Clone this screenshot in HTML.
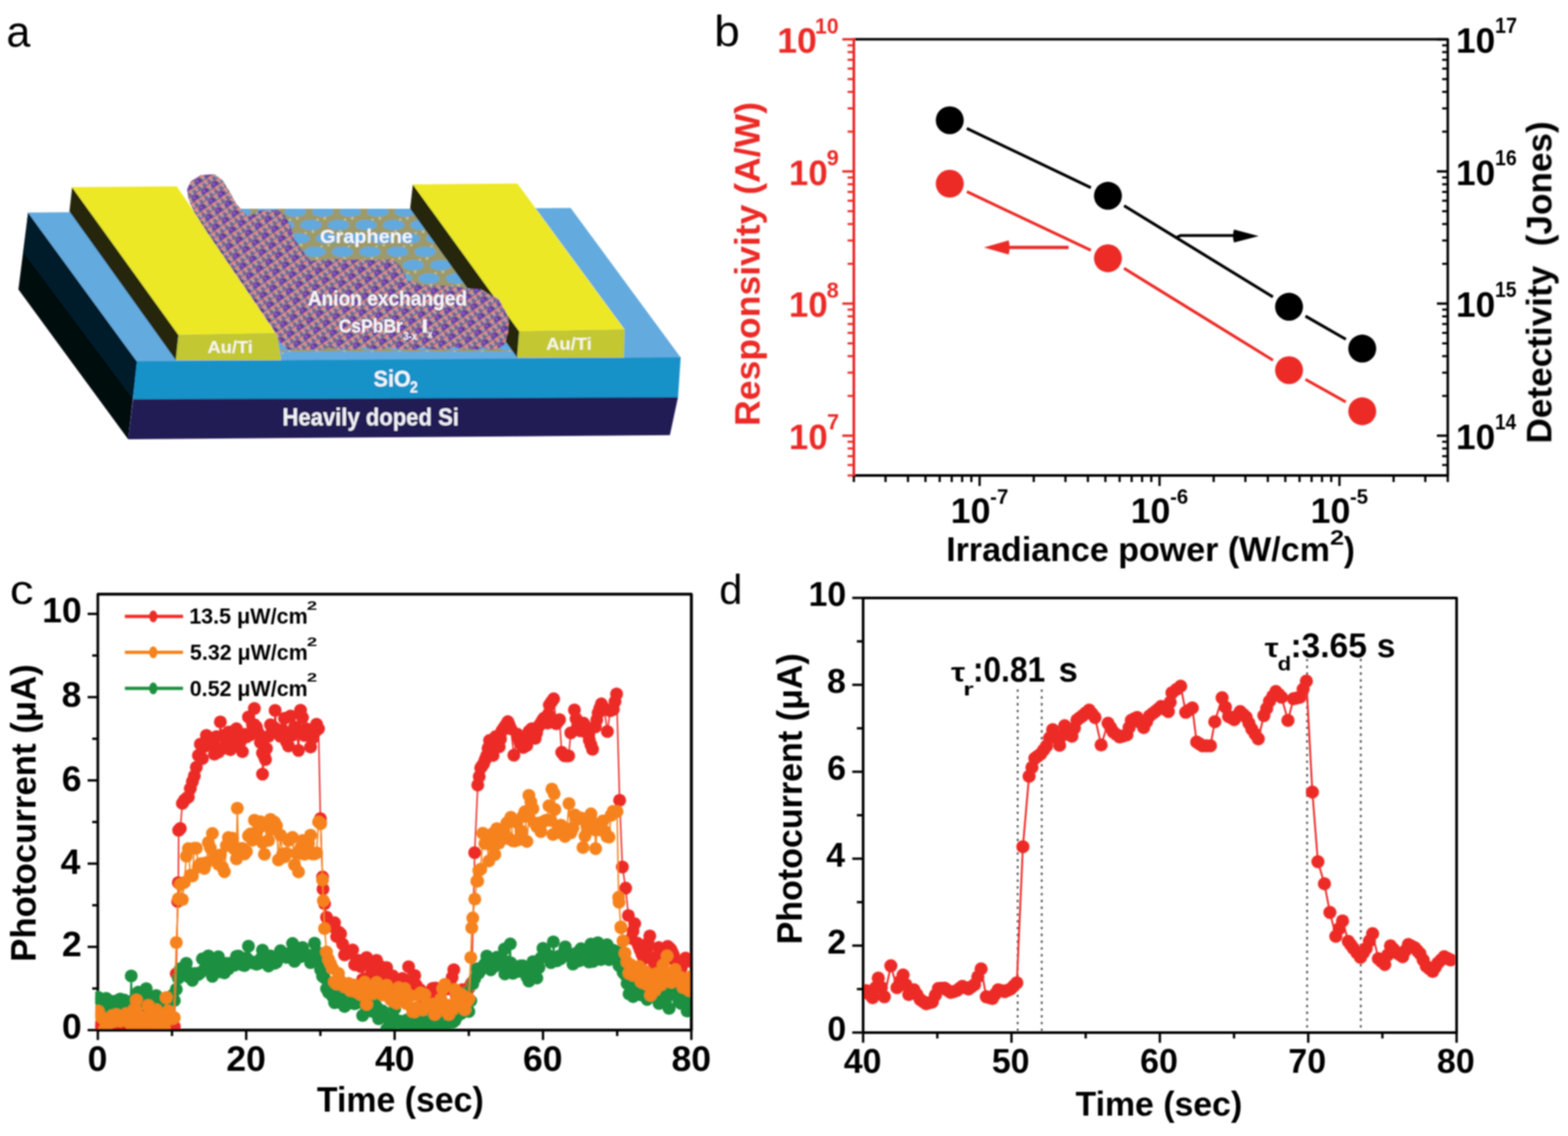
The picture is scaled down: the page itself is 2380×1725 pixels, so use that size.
<!DOCTYPE html><html><head><meta charset="utf-8"><style>html,body{margin:0;padding:0;background:#fff;}svg{display:block}</style></head><body><svg xmlns="http://www.w3.org/2000/svg" width="2380" height="1725" viewBox="0 0 2380 1725"><defs><filter id="soft" x="-1%" y="-1%" width="102%" height="102%"><feGaussianBlur stdDeviation="0.9"/></filter></defs><rect width="2380" height="1725" fill="#fff"/><g filter="url(#soft)"><g id="pa">
<text x="9.76" y="70.80" font-size="66" fill="#000" font-family="'Liberation Sans', Arial, sans-serif" textLength="36.31" lengthAdjust="spacingAndGlyphs">a</text>
<polygon points="42.6,322.8 208,549.1 194.6,667.1 28,439.6" fill="#03070f"/>
<polygon points="42.6,322.8 208,549.1 201.9,606.3 36.5,384.9" fill="#021b2a"/>
<polygon points="42.6,322.8 866.2,315.7 1033.2,542.9 208,549.1" fill="#64aadf"/>
<polygon points="208,548.6 1033.2,542.4 1029.1,603.7 201.9,606.8" fill="#1592c8"/>
<polygon points="201.9,606.3 1029.1,603.2 1016.8,660.7 194.6,667.1" fill="#211a55"/>
<clipPath id="gclip"><polygon points="366,317 622.5,317.1 784,541.6 430,541.6 400,470 366,360"/></clipPath>
<g clip-path="url(#gclip)">
<polygon points="366,317 622.5,317.1 784,541.6 430,541.6 400,470 366,360" fill="#9c9a6a"/>
<g fill="#62a9de"><ellipse cx="298.8" cy="301.1" rx="16.2" ry="7.9"/><ellipse cx="340.6" cy="301.1" rx="16.2" ry="7.9"/><ellipse cx="382.4" cy="301.1" rx="16.2" ry="7.9"/><ellipse cx="424.2" cy="301.1" rx="16.2" ry="7.9"/><ellipse cx="466" cy="301.1" rx="16.2" ry="7.9"/><ellipse cx="507.8" cy="301.1" rx="16.2" ry="7.9"/><ellipse cx="549.6" cy="301.1" rx="16.2" ry="7.9"/><ellipse cx="591.4" cy="301.1" rx="16.2" ry="7.9"/><ellipse cx="633.2" cy="301.1" rx="16.2" ry="7.9"/><ellipse cx="675" cy="301.1" rx="16.2" ry="7.9"/><ellipse cx="716.8" cy="301.1" rx="16.2" ry="7.9"/><ellipse cx="758.6" cy="301.1" rx="16.2" ry="7.9"/><ellipse cx="800.4" cy="301.1" rx="16.2" ry="7.9"/><ellipse cx="842.2" cy="301.1" rx="16.2" ry="7.9"/><ellipse cx="322.7" cy="321.4" rx="16.2" ry="7.9"/><ellipse cx="364.5" cy="321.4" rx="16.2" ry="7.9"/><ellipse cx="406.3" cy="321.4" rx="16.2" ry="7.9"/><ellipse cx="448.1" cy="321.4" rx="16.2" ry="7.9"/><ellipse cx="489.9" cy="321.4" rx="16.2" ry="7.9"/><ellipse cx="531.7" cy="321.4" rx="16.2" ry="7.9"/><ellipse cx="573.5" cy="321.4" rx="16.2" ry="7.9"/><ellipse cx="615.3" cy="321.4" rx="16.2" ry="7.9"/><ellipse cx="657.1" cy="321.4" rx="16.2" ry="7.9"/><ellipse cx="698.9" cy="321.4" rx="16.2" ry="7.9"/><ellipse cx="740.7" cy="321.4" rx="16.2" ry="7.9"/><ellipse cx="782.5" cy="321.4" rx="16.2" ry="7.9"/><ellipse cx="824.3" cy="321.4" rx="16.2" ry="7.9"/><ellipse cx="866.1" cy="321.4" rx="16.2" ry="7.9"/><ellipse cx="304.8" cy="341.7" rx="16.2" ry="7.9"/><ellipse cx="346.6" cy="341.7" rx="16.2" ry="7.9"/><ellipse cx="388.4" cy="341.7" rx="16.2" ry="7.9"/><ellipse cx="430.2" cy="341.7" rx="16.2" ry="7.9"/><ellipse cx="472" cy="341.7" rx="16.2" ry="7.9"/><ellipse cx="513.8" cy="341.7" rx="16.2" ry="7.9"/><ellipse cx="555.6" cy="341.7" rx="16.2" ry="7.9"/><ellipse cx="597.4" cy="341.7" rx="16.2" ry="7.9"/><ellipse cx="639.2" cy="341.7" rx="16.2" ry="7.9"/><ellipse cx="681" cy="341.7" rx="16.2" ry="7.9"/><ellipse cx="722.8" cy="341.7" rx="16.2" ry="7.9"/><ellipse cx="764.6" cy="341.7" rx="16.2" ry="7.9"/><ellipse cx="806.4" cy="341.7" rx="16.2" ry="7.9"/><ellipse cx="848.2" cy="341.7" rx="16.2" ry="7.9"/><ellipse cx="328.7" cy="362" rx="16.2" ry="7.9"/><ellipse cx="370.5" cy="362" rx="16.2" ry="7.9"/><ellipse cx="412.3" cy="362" rx="16.2" ry="7.9"/><ellipse cx="454.1" cy="362" rx="16.2" ry="7.9"/><ellipse cx="495.9" cy="362" rx="16.2" ry="7.9"/><ellipse cx="537.7" cy="362" rx="16.2" ry="7.9"/><ellipse cx="579.5" cy="362" rx="16.2" ry="7.9"/><ellipse cx="621.3" cy="362" rx="16.2" ry="7.9"/><ellipse cx="663.1" cy="362" rx="16.2" ry="7.9"/><ellipse cx="704.9" cy="362" rx="16.2" ry="7.9"/><ellipse cx="746.7" cy="362" rx="16.2" ry="7.9"/><ellipse cx="788.5" cy="362" rx="16.2" ry="7.9"/><ellipse cx="830.3" cy="362" rx="16.2" ry="7.9"/><ellipse cx="872.1" cy="362" rx="16.2" ry="7.9"/><ellipse cx="310.8" cy="382.3" rx="16.2" ry="7.9"/><ellipse cx="352.6" cy="382.3" rx="16.2" ry="7.9"/><ellipse cx="394.4" cy="382.3" rx="16.2" ry="7.9"/><ellipse cx="436.2" cy="382.3" rx="16.2" ry="7.9"/><ellipse cx="478" cy="382.3" rx="16.2" ry="7.9"/><ellipse cx="519.8" cy="382.3" rx="16.2" ry="7.9"/><ellipse cx="561.6" cy="382.3" rx="16.2" ry="7.9"/><ellipse cx="603.4" cy="382.3" rx="16.2" ry="7.9"/><ellipse cx="645.2" cy="382.3" rx="16.2" ry="7.9"/><ellipse cx="687" cy="382.3" rx="16.2" ry="7.9"/><ellipse cx="728.8" cy="382.3" rx="16.2" ry="7.9"/><ellipse cx="770.6" cy="382.3" rx="16.2" ry="7.9"/><ellipse cx="812.4" cy="382.3" rx="16.2" ry="7.9"/><ellipse cx="854.2" cy="382.3" rx="16.2" ry="7.9"/><ellipse cx="334.7" cy="402.6" rx="16.2" ry="7.9"/><ellipse cx="376.5" cy="402.6" rx="16.2" ry="7.9"/><ellipse cx="418.3" cy="402.6" rx="16.2" ry="7.9"/><ellipse cx="460.1" cy="402.6" rx="16.2" ry="7.9"/><ellipse cx="501.9" cy="402.6" rx="16.2" ry="7.9"/><ellipse cx="543.7" cy="402.6" rx="16.2" ry="7.9"/><ellipse cx="585.5" cy="402.6" rx="16.2" ry="7.9"/><ellipse cx="627.3" cy="402.6" rx="16.2" ry="7.9"/><ellipse cx="669.1" cy="402.6" rx="16.2" ry="7.9"/><ellipse cx="710.9" cy="402.6" rx="16.2" ry="7.9"/><ellipse cx="752.7" cy="402.6" rx="16.2" ry="7.9"/><ellipse cx="794.5" cy="402.6" rx="16.2" ry="7.9"/><ellipse cx="836.3" cy="402.6" rx="16.2" ry="7.9"/><ellipse cx="878.1" cy="402.6" rx="16.2" ry="7.9"/><ellipse cx="316.8" cy="422.9" rx="16.2" ry="7.9"/><ellipse cx="358.6" cy="422.9" rx="16.2" ry="7.9"/><ellipse cx="400.4" cy="422.9" rx="16.2" ry="7.9"/><ellipse cx="442.2" cy="422.9" rx="16.2" ry="7.9"/><ellipse cx="484" cy="422.9" rx="16.2" ry="7.9"/><ellipse cx="525.8" cy="422.9" rx="16.2" ry="7.9"/><ellipse cx="567.6" cy="422.9" rx="16.2" ry="7.9"/><ellipse cx="609.4" cy="422.9" rx="16.2" ry="7.9"/><ellipse cx="651.2" cy="422.9" rx="16.2" ry="7.9"/><ellipse cx="693" cy="422.9" rx="16.2" ry="7.9"/><ellipse cx="734.8" cy="422.9" rx="16.2" ry="7.9"/><ellipse cx="776.6" cy="422.9" rx="16.2" ry="7.9"/><ellipse cx="818.4" cy="422.9" rx="16.2" ry="7.9"/><ellipse cx="860.2" cy="422.9" rx="16.2" ry="7.9"/><ellipse cx="298.9" cy="443.2" rx="16.2" ry="7.9"/><ellipse cx="340.7" cy="443.2" rx="16.2" ry="7.9"/><ellipse cx="382.5" cy="443.2" rx="16.2" ry="7.9"/><ellipse cx="424.3" cy="443.2" rx="16.2" ry="7.9"/><ellipse cx="466.1" cy="443.2" rx="16.2" ry="7.9"/><ellipse cx="507.9" cy="443.2" rx="16.2" ry="7.9"/><ellipse cx="549.7" cy="443.2" rx="16.2" ry="7.9"/><ellipse cx="591.5" cy="443.2" rx="16.2" ry="7.9"/><ellipse cx="633.3" cy="443.2" rx="16.2" ry="7.9"/><ellipse cx="675.1" cy="443.2" rx="16.2" ry="7.9"/><ellipse cx="716.9" cy="443.2" rx="16.2" ry="7.9"/><ellipse cx="758.7" cy="443.2" rx="16.2" ry="7.9"/><ellipse cx="800.5" cy="443.2" rx="16.2" ry="7.9"/><ellipse cx="842.3" cy="443.2" rx="16.2" ry="7.9"/><ellipse cx="322.8" cy="463.5" rx="16.2" ry="7.9"/><ellipse cx="364.6" cy="463.5" rx="16.2" ry="7.9"/><ellipse cx="406.4" cy="463.5" rx="16.2" ry="7.9"/><ellipse cx="448.2" cy="463.5" rx="16.2" ry="7.9"/><ellipse cx="490" cy="463.5" rx="16.2" ry="7.9"/><ellipse cx="531.8" cy="463.5" rx="16.2" ry="7.9"/><ellipse cx="573.6" cy="463.5" rx="16.2" ry="7.9"/><ellipse cx="615.4" cy="463.5" rx="16.2" ry="7.9"/><ellipse cx="657.2" cy="463.5" rx="16.2" ry="7.9"/><ellipse cx="699" cy="463.5" rx="16.2" ry="7.9"/><ellipse cx="740.8" cy="463.5" rx="16.2" ry="7.9"/><ellipse cx="782.6" cy="463.5" rx="16.2" ry="7.9"/><ellipse cx="824.4" cy="463.5" rx="16.2" ry="7.9"/><ellipse cx="866.2" cy="463.5" rx="16.2" ry="7.9"/><ellipse cx="304.9" cy="483.8" rx="16.2" ry="7.9"/><ellipse cx="346.7" cy="483.8" rx="16.2" ry="7.9"/><ellipse cx="388.5" cy="483.8" rx="16.2" ry="7.9"/><ellipse cx="430.3" cy="483.8" rx="16.2" ry="7.9"/><ellipse cx="472.1" cy="483.8" rx="16.2" ry="7.9"/><ellipse cx="513.9" cy="483.8" rx="16.2" ry="7.9"/><ellipse cx="555.7" cy="483.8" rx="16.2" ry="7.9"/><ellipse cx="597.5" cy="483.8" rx="16.2" ry="7.9"/><ellipse cx="639.3" cy="483.8" rx="16.2" ry="7.9"/><ellipse cx="681.1" cy="483.8" rx="16.2" ry="7.9"/><ellipse cx="722.9" cy="483.8" rx="16.2" ry="7.9"/><ellipse cx="764.7" cy="483.8" rx="16.2" ry="7.9"/><ellipse cx="806.5" cy="483.8" rx="16.2" ry="7.9"/><ellipse cx="848.3" cy="483.8" rx="16.2" ry="7.9"/><ellipse cx="328.8" cy="504.1" rx="16.2" ry="7.9"/><ellipse cx="370.6" cy="504.1" rx="16.2" ry="7.9"/><ellipse cx="412.4" cy="504.1" rx="16.2" ry="7.9"/><ellipse cx="454.2" cy="504.1" rx="16.2" ry="7.9"/><ellipse cx="496" cy="504.1" rx="16.2" ry="7.9"/><ellipse cx="537.8" cy="504.1" rx="16.2" ry="7.9"/><ellipse cx="579.6" cy="504.1" rx="16.2" ry="7.9"/><ellipse cx="621.4" cy="504.1" rx="16.2" ry="7.9"/><ellipse cx="663.2" cy="504.1" rx="16.2" ry="7.9"/><ellipse cx="705" cy="504.1" rx="16.2" ry="7.9"/><ellipse cx="746.8" cy="504.1" rx="16.2" ry="7.9"/><ellipse cx="788.6" cy="504.1" rx="16.2" ry="7.9"/><ellipse cx="830.4" cy="504.1" rx="16.2" ry="7.9"/><ellipse cx="872.2" cy="504.1" rx="16.2" ry="7.9"/><ellipse cx="310.9" cy="524.4" rx="16.2" ry="7.9"/><ellipse cx="352.7" cy="524.4" rx="16.2" ry="7.9"/><ellipse cx="394.5" cy="524.4" rx="16.2" ry="7.9"/><ellipse cx="436.3" cy="524.4" rx="16.2" ry="7.9"/><ellipse cx="478.1" cy="524.4" rx="16.2" ry="7.9"/><ellipse cx="519.9" cy="524.4" rx="16.2" ry="7.9"/><ellipse cx="561.7" cy="524.4" rx="16.2" ry="7.9"/><ellipse cx="603.5" cy="524.4" rx="16.2" ry="7.9"/><ellipse cx="645.3" cy="524.4" rx="16.2" ry="7.9"/><ellipse cx="687.1" cy="524.4" rx="16.2" ry="7.9"/><ellipse cx="728.9" cy="524.4" rx="16.2" ry="7.9"/><ellipse cx="770.7" cy="524.4" rx="16.2" ry="7.9"/><ellipse cx="812.5" cy="524.4" rx="16.2" ry="7.9"/><ellipse cx="854.3" cy="524.4" rx="16.2" ry="7.9"/><ellipse cx="334.8" cy="544.7" rx="16.2" ry="7.9"/><ellipse cx="376.6" cy="544.7" rx="16.2" ry="7.9"/><ellipse cx="418.4" cy="544.7" rx="16.2" ry="7.9"/><ellipse cx="460.2" cy="544.7" rx="16.2" ry="7.9"/><ellipse cx="502" cy="544.7" rx="16.2" ry="7.9"/><ellipse cx="543.8" cy="544.7" rx="16.2" ry="7.9"/><ellipse cx="585.6" cy="544.7" rx="16.2" ry="7.9"/><ellipse cx="627.4" cy="544.7" rx="16.2" ry="7.9"/><ellipse cx="669.2" cy="544.7" rx="16.2" ry="7.9"/><ellipse cx="711" cy="544.7" rx="16.2" ry="7.9"/><ellipse cx="752.8" cy="544.7" rx="16.2" ry="7.9"/><ellipse cx="794.6" cy="544.7" rx="16.2" ry="7.9"/><ellipse cx="836.4" cy="544.7" rx="16.2" ry="7.9"/><ellipse cx="878.2" cy="544.7" rx="16.2" ry="7.9"/><ellipse cx="316.9" cy="565" rx="16.2" ry="7.9"/><ellipse cx="358.7" cy="565" rx="16.2" ry="7.9"/><ellipse cx="400.5" cy="565" rx="16.2" ry="7.9"/><ellipse cx="442.3" cy="565" rx="16.2" ry="7.9"/><ellipse cx="484.1" cy="565" rx="16.2" ry="7.9"/><ellipse cx="525.9" cy="565" rx="16.2" ry="7.9"/><ellipse cx="567.7" cy="565" rx="16.2" ry="7.9"/><ellipse cx="609.5" cy="565" rx="16.2" ry="7.9"/><ellipse cx="651.3" cy="565" rx="16.2" ry="7.9"/><ellipse cx="693.1" cy="565" rx="16.2" ry="7.9"/><ellipse cx="734.9" cy="565" rx="16.2" ry="7.9"/><ellipse cx="776.7" cy="565" rx="16.2" ry="7.9"/><ellipse cx="818.5" cy="565" rx="16.2" ry="7.9"/><ellipse cx="860.3" cy="565" rx="16.2" ry="7.9"/></g>
<g fill="#c2c08e"><circle cx="277.9" cy="290.9" r="2.2"/><circle cx="308.8" cy="292.8" r="1.8"/><circle cx="319.7" cy="290.9" r="2.2"/><circle cx="350.6" cy="292.8" r="1.8"/><circle cx="361.5" cy="290.9" r="2.2"/><circle cx="392.4" cy="292.8" r="1.8"/><circle cx="403.3" cy="290.9" r="2.2"/><circle cx="434.2" cy="292.8" r="1.8"/><circle cx="445.1" cy="290.9" r="2.2"/><circle cx="476" cy="292.8" r="1.8"/><circle cx="486.9" cy="290.9" r="2.2"/><circle cx="517.8" cy="292.8" r="1.8"/><circle cx="528.7" cy="290.9" r="2.2"/><circle cx="559.6" cy="292.8" r="1.8"/><circle cx="570.5" cy="290.9" r="2.2"/><circle cx="601.4" cy="292.8" r="1.8"/><circle cx="612.3" cy="290.9" r="2.2"/><circle cx="643.2" cy="292.8" r="1.8"/><circle cx="654.1" cy="290.9" r="2.2"/><circle cx="685" cy="292.8" r="1.8"/><circle cx="695.9" cy="290.9" r="2.2"/><circle cx="726.8" cy="292.8" r="1.8"/><circle cx="737.7" cy="290.9" r="2.2"/><circle cx="768.6" cy="292.8" r="1.8"/><circle cx="779.5" cy="290.9" r="2.2"/><circle cx="810.4" cy="292.8" r="1.8"/><circle cx="821.3" cy="290.9" r="2.2"/><circle cx="852.2" cy="292.8" r="1.8"/><circle cx="301.8" cy="311.2" r="2.2"/><circle cx="332.7" cy="313.1" r="1.8"/><circle cx="343.6" cy="311.2" r="2.2"/><circle cx="374.5" cy="313.1" r="1.8"/><circle cx="385.4" cy="311.2" r="2.2"/><circle cx="416.3" cy="313.1" r="1.8"/><circle cx="427.2" cy="311.2" r="2.2"/><circle cx="458.1" cy="313.1" r="1.8"/><circle cx="469" cy="311.2" r="2.2"/><circle cx="499.9" cy="313.1" r="1.8"/><circle cx="510.8" cy="311.2" r="2.2"/><circle cx="541.7" cy="313.1" r="1.8"/><circle cx="552.6" cy="311.2" r="2.2"/><circle cx="583.5" cy="313.1" r="1.8"/><circle cx="594.4" cy="311.2" r="2.2"/><circle cx="625.3" cy="313.1" r="1.8"/><circle cx="636.2" cy="311.2" r="2.2"/><circle cx="667.1" cy="313.1" r="1.8"/><circle cx="678" cy="311.2" r="2.2"/><circle cx="708.9" cy="313.1" r="1.8"/><circle cx="719.8" cy="311.2" r="2.2"/><circle cx="750.7" cy="313.1" r="1.8"/><circle cx="761.6" cy="311.2" r="2.2"/><circle cx="792.5" cy="313.1" r="1.8"/><circle cx="803.4" cy="311.2" r="2.2"/><circle cx="834.3" cy="313.1" r="1.8"/><circle cx="845.2" cy="311.2" r="2.2"/><circle cx="876.1" cy="313.1" r="1.8"/><circle cx="283.9" cy="331.5" r="2.2"/><circle cx="314.8" cy="333.4" r="1.8"/><circle cx="325.7" cy="331.5" r="2.2"/><circle cx="356.6" cy="333.4" r="1.8"/><circle cx="367.5" cy="331.5" r="2.2"/><circle cx="398.4" cy="333.4" r="1.8"/><circle cx="409.3" cy="331.5" r="2.2"/><circle cx="440.2" cy="333.4" r="1.8"/><circle cx="451.1" cy="331.5" r="2.2"/><circle cx="482" cy="333.4" r="1.8"/><circle cx="492.9" cy="331.5" r="2.2"/><circle cx="523.8" cy="333.4" r="1.8"/><circle cx="534.7" cy="331.5" r="2.2"/><circle cx="565.6" cy="333.4" r="1.8"/><circle cx="576.5" cy="331.5" r="2.2"/><circle cx="607.4" cy="333.4" r="1.8"/><circle cx="618.3" cy="331.5" r="2.2"/><circle cx="649.2" cy="333.4" r="1.8"/><circle cx="660.1" cy="331.5" r="2.2"/><circle cx="691" cy="333.4" r="1.8"/><circle cx="701.9" cy="331.5" r="2.2"/><circle cx="732.8" cy="333.4" r="1.8"/><circle cx="743.7" cy="331.5" r="2.2"/><circle cx="774.6" cy="333.4" r="1.8"/><circle cx="785.5" cy="331.5" r="2.2"/><circle cx="816.4" cy="333.4" r="1.8"/><circle cx="827.3" cy="331.5" r="2.2"/><circle cx="858.2" cy="333.4" r="1.8"/><circle cx="307.8" cy="351.8" r="2.2"/><circle cx="338.7" cy="353.7" r="1.8"/><circle cx="349.6" cy="351.8" r="2.2"/><circle cx="380.5" cy="353.7" r="1.8"/><circle cx="391.4" cy="351.8" r="2.2"/><circle cx="422.3" cy="353.7" r="1.8"/><circle cx="433.2" cy="351.8" r="2.2"/><circle cx="464.1" cy="353.7" r="1.8"/><circle cx="475" cy="351.8" r="2.2"/><circle cx="505.9" cy="353.7" r="1.8"/><circle cx="516.8" cy="351.8" r="2.2"/><circle cx="547.7" cy="353.7" r="1.8"/><circle cx="558.6" cy="351.8" r="2.2"/><circle cx="589.5" cy="353.7" r="1.8"/><circle cx="600.4" cy="351.8" r="2.2"/><circle cx="631.3" cy="353.7" r="1.8"/><circle cx="642.2" cy="351.8" r="2.2"/><circle cx="673.1" cy="353.7" r="1.8"/><circle cx="684" cy="351.8" r="2.2"/><circle cx="714.9" cy="353.7" r="1.8"/><circle cx="725.8" cy="351.8" r="2.2"/><circle cx="756.7" cy="353.7" r="1.8"/><circle cx="767.6" cy="351.8" r="2.2"/><circle cx="798.5" cy="353.7" r="1.8"/><circle cx="809.4" cy="351.8" r="2.2"/><circle cx="840.3" cy="353.7" r="1.8"/><circle cx="851.2" cy="351.8" r="2.2"/><circle cx="882.1" cy="353.7" r="1.8"/><circle cx="289.9" cy="372.1" r="2.2"/><circle cx="320.8" cy="374" r="1.8"/><circle cx="331.7" cy="372.1" r="2.2"/><circle cx="362.6" cy="374" r="1.8"/><circle cx="373.5" cy="372.1" r="2.2"/><circle cx="404.4" cy="374" r="1.8"/><circle cx="415.3" cy="372.1" r="2.2"/><circle cx="446.2" cy="374" r="1.8"/><circle cx="457.1" cy="372.1" r="2.2"/><circle cx="488" cy="374" r="1.8"/><circle cx="498.9" cy="372.1" r="2.2"/><circle cx="529.8" cy="374" r="1.8"/><circle cx="540.7" cy="372.1" r="2.2"/><circle cx="571.6" cy="374" r="1.8"/><circle cx="582.5" cy="372.1" r="2.2"/><circle cx="613.4" cy="374" r="1.8"/><circle cx="624.3" cy="372.1" r="2.2"/><circle cx="655.2" cy="374" r="1.8"/><circle cx="666.1" cy="372.1" r="2.2"/><circle cx="697" cy="374" r="1.8"/><circle cx="707.9" cy="372.1" r="2.2"/><circle cx="738.8" cy="374" r="1.8"/><circle cx="749.7" cy="372.1" r="2.2"/><circle cx="780.6" cy="374" r="1.8"/><circle cx="791.5" cy="372.1" r="2.2"/><circle cx="822.4" cy="374" r="1.8"/><circle cx="833.3" cy="372.1" r="2.2"/><circle cx="864.2" cy="374" r="1.8"/><circle cx="313.8" cy="392.4" r="2.2"/><circle cx="344.7" cy="394.3" r="1.8"/><circle cx="355.6" cy="392.4" r="2.2"/><circle cx="386.5" cy="394.3" r="1.8"/><circle cx="397.4" cy="392.4" r="2.2"/><circle cx="428.3" cy="394.3" r="1.8"/><circle cx="439.2" cy="392.4" r="2.2"/><circle cx="470.1" cy="394.3" r="1.8"/><circle cx="481" cy="392.4" r="2.2"/><circle cx="511.9" cy="394.3" r="1.8"/><circle cx="522.8" cy="392.4" r="2.2"/><circle cx="553.7" cy="394.3" r="1.8"/><circle cx="564.6" cy="392.4" r="2.2"/><circle cx="595.5" cy="394.3" r="1.8"/><circle cx="606.4" cy="392.4" r="2.2"/><circle cx="637.3" cy="394.3" r="1.8"/><circle cx="648.2" cy="392.4" r="2.2"/><circle cx="679.1" cy="394.3" r="1.8"/><circle cx="690" cy="392.4" r="2.2"/><circle cx="720.9" cy="394.3" r="1.8"/><circle cx="731.8" cy="392.4" r="2.2"/><circle cx="762.7" cy="394.3" r="1.8"/><circle cx="773.6" cy="392.4" r="2.2"/><circle cx="804.5" cy="394.3" r="1.8"/><circle cx="815.4" cy="392.4" r="2.2"/><circle cx="846.3" cy="394.3" r="1.8"/><circle cx="857.2" cy="392.4" r="2.2"/><circle cx="888.1" cy="394.3" r="1.8"/><circle cx="295.9" cy="412.7" r="2.2"/><circle cx="326.8" cy="414.6" r="1.8"/><circle cx="337.7" cy="412.7" r="2.2"/><circle cx="368.6" cy="414.6" r="1.8"/><circle cx="379.5" cy="412.7" r="2.2"/><circle cx="410.4" cy="414.6" r="1.8"/><circle cx="421.3" cy="412.7" r="2.2"/><circle cx="452.2" cy="414.6" r="1.8"/><circle cx="463.1" cy="412.7" r="2.2"/><circle cx="494" cy="414.6" r="1.8"/><circle cx="504.9" cy="412.7" r="2.2"/><circle cx="535.8" cy="414.6" r="1.8"/><circle cx="546.7" cy="412.7" r="2.2"/><circle cx="577.6" cy="414.6" r="1.8"/><circle cx="588.5" cy="412.7" r="2.2"/><circle cx="619.4" cy="414.6" r="1.8"/><circle cx="630.3" cy="412.7" r="2.2"/><circle cx="661.2" cy="414.6" r="1.8"/><circle cx="672.1" cy="412.7" r="2.2"/><circle cx="703" cy="414.6" r="1.8"/><circle cx="713.9" cy="412.7" r="2.2"/><circle cx="744.8" cy="414.6" r="1.8"/><circle cx="755.7" cy="412.7" r="2.2"/><circle cx="786.6" cy="414.6" r="1.8"/><circle cx="797.5" cy="412.7" r="2.2"/><circle cx="828.4" cy="414.6" r="1.8"/><circle cx="839.3" cy="412.7" r="2.2"/><circle cx="870.2" cy="414.6" r="1.8"/><circle cx="278" cy="433" r="2.2"/><circle cx="308.9" cy="434.9" r="1.8"/><circle cx="319.8" cy="433" r="2.2"/><circle cx="350.7" cy="434.9" r="1.8"/><circle cx="361.6" cy="433" r="2.2"/><circle cx="392.5" cy="434.9" r="1.8"/><circle cx="403.4" cy="433" r="2.2"/><circle cx="434.3" cy="434.9" r="1.8"/><circle cx="445.2" cy="433" r="2.2"/><circle cx="476.1" cy="434.9" r="1.8"/><circle cx="487" cy="433" r="2.2"/><circle cx="517.9" cy="434.9" r="1.8"/><circle cx="528.8" cy="433" r="2.2"/><circle cx="559.7" cy="434.9" r="1.8"/><circle cx="570.6" cy="433" r="2.2"/><circle cx="601.5" cy="434.9" r="1.8"/><circle cx="612.4" cy="433" r="2.2"/><circle cx="643.3" cy="434.9" r="1.8"/><circle cx="654.2" cy="433" r="2.2"/><circle cx="685.1" cy="434.9" r="1.8"/><circle cx="696" cy="433" r="2.2"/><circle cx="726.9" cy="434.9" r="1.8"/><circle cx="737.8" cy="433" r="2.2"/><circle cx="768.7" cy="434.9" r="1.8"/><circle cx="779.6" cy="433" r="2.2"/><circle cx="810.5" cy="434.9" r="1.8"/><circle cx="821.4" cy="433" r="2.2"/><circle cx="852.3" cy="434.9" r="1.8"/><circle cx="301.9" cy="453.3" r="2.2"/><circle cx="332.8" cy="455.2" r="1.8"/><circle cx="343.7" cy="453.3" r="2.2"/><circle cx="374.6" cy="455.2" r="1.8"/><circle cx="385.5" cy="453.3" r="2.2"/><circle cx="416.4" cy="455.2" r="1.8"/><circle cx="427.3" cy="453.3" r="2.2"/><circle cx="458.2" cy="455.2" r="1.8"/><circle cx="469.1" cy="453.3" r="2.2"/><circle cx="500" cy="455.2" r="1.8"/><circle cx="510.9" cy="453.3" r="2.2"/><circle cx="541.8" cy="455.2" r="1.8"/><circle cx="552.7" cy="453.3" r="2.2"/><circle cx="583.6" cy="455.2" r="1.8"/><circle cx="594.5" cy="453.3" r="2.2"/><circle cx="625.4" cy="455.2" r="1.8"/><circle cx="636.3" cy="453.3" r="2.2"/><circle cx="667.2" cy="455.2" r="1.8"/><circle cx="678.1" cy="453.3" r="2.2"/><circle cx="709" cy="455.2" r="1.8"/><circle cx="719.9" cy="453.3" r="2.2"/><circle cx="750.8" cy="455.2" r="1.8"/><circle cx="761.7" cy="453.3" r="2.2"/><circle cx="792.6" cy="455.2" r="1.8"/><circle cx="803.5" cy="453.3" r="2.2"/><circle cx="834.4" cy="455.2" r="1.8"/><circle cx="845.3" cy="453.3" r="2.2"/><circle cx="876.2" cy="455.2" r="1.8"/><circle cx="284" cy="473.6" r="2.2"/><circle cx="314.9" cy="475.5" r="1.8"/><circle cx="325.8" cy="473.6" r="2.2"/><circle cx="356.7" cy="475.5" r="1.8"/><circle cx="367.6" cy="473.6" r="2.2"/><circle cx="398.5" cy="475.5" r="1.8"/><circle cx="409.4" cy="473.6" r="2.2"/><circle cx="440.3" cy="475.5" r="1.8"/><circle cx="451.2" cy="473.6" r="2.2"/><circle cx="482.1" cy="475.5" r="1.8"/><circle cx="493" cy="473.6" r="2.2"/><circle cx="523.9" cy="475.5" r="1.8"/><circle cx="534.8" cy="473.6" r="2.2"/><circle cx="565.7" cy="475.5" r="1.8"/><circle cx="576.6" cy="473.6" r="2.2"/><circle cx="607.5" cy="475.5" r="1.8"/><circle cx="618.4" cy="473.6" r="2.2"/><circle cx="649.3" cy="475.5" r="1.8"/><circle cx="660.2" cy="473.6" r="2.2"/><circle cx="691.1" cy="475.5" r="1.8"/><circle cx="702" cy="473.6" r="2.2"/><circle cx="732.9" cy="475.5" r="1.8"/><circle cx="743.8" cy="473.6" r="2.2"/><circle cx="774.7" cy="475.5" r="1.8"/><circle cx="785.6" cy="473.6" r="2.2"/><circle cx="816.5" cy="475.5" r="1.8"/><circle cx="827.4" cy="473.6" r="2.2"/><circle cx="858.3" cy="475.5" r="1.8"/><circle cx="307.9" cy="493.9" r="2.2"/><circle cx="338.8" cy="495.8" r="1.8"/><circle cx="349.7" cy="493.9" r="2.2"/><circle cx="380.6" cy="495.8" r="1.8"/><circle cx="391.5" cy="493.9" r="2.2"/><circle cx="422.4" cy="495.8" r="1.8"/><circle cx="433.3" cy="493.9" r="2.2"/><circle cx="464.2" cy="495.8" r="1.8"/><circle cx="475.1" cy="493.9" r="2.2"/><circle cx="506" cy="495.8" r="1.8"/><circle cx="516.9" cy="493.9" r="2.2"/><circle cx="547.8" cy="495.8" r="1.8"/><circle cx="558.7" cy="493.9" r="2.2"/><circle cx="589.6" cy="495.8" r="1.8"/><circle cx="600.5" cy="493.9" r="2.2"/><circle cx="631.4" cy="495.8" r="1.8"/><circle cx="642.3" cy="493.9" r="2.2"/><circle cx="673.2" cy="495.8" r="1.8"/><circle cx="684.1" cy="493.9" r="2.2"/><circle cx="715" cy="495.8" r="1.8"/><circle cx="725.9" cy="493.9" r="2.2"/><circle cx="756.8" cy="495.8" r="1.8"/><circle cx="767.7" cy="493.9" r="2.2"/><circle cx="798.6" cy="495.8" r="1.8"/><circle cx="809.5" cy="493.9" r="2.2"/><circle cx="840.4" cy="495.8" r="1.8"/><circle cx="851.3" cy="493.9" r="2.2"/><circle cx="882.2" cy="495.8" r="1.8"/><circle cx="290" cy="514.2" r="2.2"/><circle cx="320.9" cy="516.1" r="1.8"/><circle cx="331.8" cy="514.2" r="2.2"/><circle cx="362.7" cy="516.1" r="1.8"/><circle cx="373.6" cy="514.2" r="2.2"/><circle cx="404.5" cy="516.1" r="1.8"/><circle cx="415.4" cy="514.2" r="2.2"/><circle cx="446.3" cy="516.1" r="1.8"/><circle cx="457.2" cy="514.2" r="2.2"/><circle cx="488.1" cy="516.1" r="1.8"/><circle cx="499" cy="514.2" r="2.2"/><circle cx="529.9" cy="516.1" r="1.8"/><circle cx="540.8" cy="514.2" r="2.2"/><circle cx="571.7" cy="516.1" r="1.8"/><circle cx="582.6" cy="514.2" r="2.2"/><circle cx="613.5" cy="516.1" r="1.8"/><circle cx="624.4" cy="514.2" r="2.2"/><circle cx="655.3" cy="516.1" r="1.8"/><circle cx="666.2" cy="514.2" r="2.2"/><circle cx="697.1" cy="516.1" r="1.8"/><circle cx="708" cy="514.2" r="2.2"/><circle cx="738.9" cy="516.1" r="1.8"/><circle cx="749.8" cy="514.2" r="2.2"/><circle cx="780.7" cy="516.1" r="1.8"/><circle cx="791.6" cy="514.2" r="2.2"/><circle cx="822.5" cy="516.1" r="1.8"/><circle cx="833.4" cy="514.2" r="2.2"/><circle cx="864.3" cy="516.1" r="1.8"/><circle cx="313.9" cy="534.5" r="2.2"/><circle cx="344.8" cy="536.4" r="1.8"/><circle cx="355.7" cy="534.5" r="2.2"/><circle cx="386.6" cy="536.4" r="1.8"/><circle cx="397.5" cy="534.5" r="2.2"/><circle cx="428.4" cy="536.4" r="1.8"/><circle cx="439.3" cy="534.5" r="2.2"/><circle cx="470.2" cy="536.4" r="1.8"/><circle cx="481.1" cy="534.5" r="2.2"/><circle cx="512" cy="536.4" r="1.8"/><circle cx="522.9" cy="534.5" r="2.2"/><circle cx="553.8" cy="536.4" r="1.8"/><circle cx="564.7" cy="534.5" r="2.2"/><circle cx="595.6" cy="536.4" r="1.8"/><circle cx="606.5" cy="534.5" r="2.2"/><circle cx="637.4" cy="536.4" r="1.8"/><circle cx="648.3" cy="534.5" r="2.2"/><circle cx="679.2" cy="536.4" r="1.8"/><circle cx="690.1" cy="534.5" r="2.2"/><circle cx="721" cy="536.4" r="1.8"/><circle cx="731.9" cy="534.5" r="2.2"/><circle cx="762.8" cy="536.4" r="1.8"/><circle cx="773.7" cy="534.5" r="2.2"/><circle cx="804.6" cy="536.4" r="1.8"/><circle cx="815.5" cy="534.5" r="2.2"/><circle cx="846.4" cy="536.4" r="1.8"/><circle cx="857.3" cy="534.5" r="2.2"/><circle cx="888.2" cy="536.4" r="1.8"/><circle cx="296" cy="554.8" r="2.2"/><circle cx="326.9" cy="556.7" r="1.8"/><circle cx="337.8" cy="554.8" r="2.2"/><circle cx="368.7" cy="556.7" r="1.8"/><circle cx="379.6" cy="554.8" r="2.2"/><circle cx="410.5" cy="556.7" r="1.8"/><circle cx="421.4" cy="554.8" r="2.2"/><circle cx="452.3" cy="556.7" r="1.8"/><circle cx="463.2" cy="554.8" r="2.2"/><circle cx="494.1" cy="556.7" r="1.8"/><circle cx="505" cy="554.8" r="2.2"/><circle cx="535.9" cy="556.7" r="1.8"/><circle cx="546.8" cy="554.8" r="2.2"/><circle cx="577.7" cy="556.7" r="1.8"/><circle cx="588.6" cy="554.8" r="2.2"/><circle cx="619.5" cy="556.7" r="1.8"/><circle cx="630.4" cy="554.8" r="2.2"/><circle cx="661.3" cy="556.7" r="1.8"/><circle cx="672.2" cy="554.8" r="2.2"/><circle cx="703.1" cy="556.7" r="1.8"/><circle cx="714" cy="554.8" r="2.2"/><circle cx="744.9" cy="556.7" r="1.8"/><circle cx="755.8" cy="554.8" r="2.2"/><circle cx="786.7" cy="556.7" r="1.8"/><circle cx="797.6" cy="554.8" r="2.2"/><circle cx="828.5" cy="556.7" r="1.8"/><circle cx="839.4" cy="554.8" r="2.2"/><circle cx="870.3" cy="556.7" r="1.8"/></g>
</g>
<polygon points="430,534 779,534 784,541.6 430,545" fill="#64aadf"/>
<polygon points="109.5,284.2 271,508.7 266.9,547 105.4,321.2" fill="#26270b"/>
<polygon points="109.5,284.2 268.3,282.9 420.2,506 271,508.7" fill="#ede826"/>
<polygon points="271,508.7 420.2,506 427,547 266.9,547" fill="#c3c732"/>
<polygon points="626.7,280.1 788.2,503.2 785,543 622.5,317.1" fill="#26270b"/>
<polygon points="626.7,280.1 785.4,278.7 948.3,500.5 788.2,503.2" fill="#ede826"/>
<polygon points="788.2,503.2 948.3,500.5 947,543 785,543" fill="#c3c732"/>
<defs><pattern id="nc" patternUnits="userSpaceOnUse" width="18" height="18" patternTransform="rotate(-35) translate(3,5)"><rect width="18" height="18" fill="#786890"/><rect x="1" y="1.4" width="7" height="3.3" rx="1.5" fill="#f38c80"/><rect x="10" y="1.4" width="7" height="3.3" rx="1.5" fill="#f38c80"/><rect x="1" y="10.4" width="7" height="3.3" rx="1.5" fill="#f38c80"/><rect x="10" y="10.4" width="7" height="3.3" rx="1.5" fill="#f38c80"/><circle cx="4.5" cy="6.8" r="1.9" fill="#a9b4c2"/><circle cx="13.5" cy="6.8" r="1.9" fill="#a9b4c2"/><circle cx="4.5" cy="15.8" r="1.9" fill="#a9b4c2"/><circle cx="0" cy="2.9" r="1.3" fill="#a9b4c2"/><circle cx="13.5" cy="15.4" r="4.7" fill="#3c2160"/><circle cx="13.1" cy="15" r="3.9" fill="#6d3bb3"/><circle cx="12.4" cy="14.2" r="1.3" fill="#9d78da"/></pattern></defs>
<polygon points="284,287 290,275 305,265.8 326,264.5 338,274 348,290 358,308 368,320 376,329 383,326 393,320 420,318.5 432,326 441,343 446,361 455,375 464,387 473,396 503,393 550,394.4 580,394.5 593.4,393.4 605.8,400.7 614.1,416.2 618.3,426.5 628.6,427.6 637.9,431.7 652.4,433.8 683.4,433.8 698.9,435.8 707.2,437.9 729.9,438.9 741.3,446.2 755.7,452.4 765,467.9 772.3,483.4 771.3,504.1 766.1,522.7 757,529 745,531 735,528 725,531 700,530 690,527 680,531 650,530 640,527 630,531 600,530 590,527 580,531 560,530 550,527 540,531 510,530 500,527 490,531 460,531 437,531 425,520 418.5,506 380.6,450 346.5,400 312.5,350 294.3,321 289,310 285.5,300" fill="url(#nc)"/>
<text x="485.79" y="369.10" font-size="29.5" font-weight="bold" fill="#f6f6fa" font-family="'Liberation Sans', Arial, sans-serif" textLength="140.86" lengthAdjust="spacingAndGlyphs">Graphene</text>
<text x="467.17" y="464.00" font-size="31" font-weight="bold" fill="#f6f6fa" font-family="'Liberation Sans', Arial, sans-serif" textLength="241.80" lengthAdjust="spacingAndGlyphs">Anion exchanged</text>
<text x="514.14" y="505.00" font-size="29" font-weight="bold" fill="#f6f6fa" font-family="'Liberation Sans', Arial, sans-serif" textLength="97.29" lengthAdjust="spacingAndGlyphs">CsPbBr</text>
<text x="612.14" y="515.50" font-size="16" font-weight="bold" fill="#f6f6fa" font-family="'Liberation Sans', Arial, sans-serif" textLength="21.01" lengthAdjust="spacingAndGlyphs">3-x</text>
<text x="639.53" y="505.00" font-size="29" font-weight="bold" fill="#f6f6fa" font-family="'Liberation Sans', Arial, sans-serif" textLength="10.54" lengthAdjust="spacingAndGlyphs">I</text>
<text x="649.58" y="512.70" font-size="16" font-weight="bold" fill="#f6f6fa" font-family="'Liberation Sans', Arial, sans-serif" textLength="6.86" lengthAdjust="spacingAndGlyphs">x</text>
<text x="315.01" y="536.40" font-size="25" font-weight="bold" fill="#f7f7e6" font-family="'Liberation Sans', Arial, sans-serif" textLength="68.67" lengthAdjust="spacingAndGlyphs">Au/Ti</text>
<text x="828.90" y="530.60" font-size="25" font-weight="bold" fill="#f7f7e6" font-family="'Liberation Sans', Arial, sans-serif" textLength="69.40" lengthAdjust="spacingAndGlyphs">Au/Ti</text>
<text x="567.12" y="587.20" font-size="35" font-weight="bold" fill="#f2f8fc" font-family="'Liberation Sans', Arial, sans-serif" textLength="56.38" lengthAdjust="spacingAndGlyphs">SiO</text>
<text x="622.25" y="596.00" font-size="24" font-weight="bold" fill="#f2f8fc" font-family="'Liberation Sans', Arial, sans-serif" textLength="11.93" lengthAdjust="spacingAndGlyphs">2</text>
<text x="428.83" y="646.40" font-size="36.5" font-weight="bold" fill="#f2f2f8" font-family="'Liberation Sans', Arial, sans-serif" textLength="267.70" lengthAdjust="spacingAndGlyphs">Heavily doped Si</text>
</g>
<g id="pb">
<text x="1083.95" y="70.20" font-size="66" fill="#000" font-family="'Liberation Sans', Arial, sans-serif" textLength="38.93" lengthAdjust="spacingAndGlyphs">b</text>
<path d="M1296,59.7 H2197.5 V722 H1296" fill="none" stroke="#000" stroke-width="3.8" stroke-linejoin="round"/>
<line x1="1296" y1="57.800000000000004" x2="1296" y2="724.5" stroke="#ec2a26" stroke-width="4"/>
<line x1="1278.5" y1="661.6" x2="1296" y2="661.6" stroke="#ec2a26" stroke-width="3.6"/>
<line x1="1286.5" y1="722" x2="1296" y2="722" stroke="#ec2a26" stroke-width="3.2"/>
<line x1="1286.5" y1="706.1" x2="1296" y2="706.1" stroke="#ec2a26" stroke-width="3.2"/>
<line x1="1286.5" y1="692.7" x2="1296" y2="692.7" stroke="#ec2a26" stroke-width="3.2"/>
<line x1="1286.5" y1="681" x2="1296" y2="681" stroke="#ec2a26" stroke-width="3.2"/>
<line x1="1286.5" y1="670.8" x2="1296" y2="670.8" stroke="#ec2a26" stroke-width="3.2"/>
<line x1="1278.5" y1="461" x2="1296" y2="461" stroke="#ec2a26" stroke-width="3.6"/>
<line x1="1286.5" y1="601.2" x2="1296" y2="601.2" stroke="#ec2a26" stroke-width="3.2"/>
<line x1="1286.5" y1="565.9" x2="1296" y2="565.9" stroke="#ec2a26" stroke-width="3.2"/>
<line x1="1286.5" y1="540.8" x2="1296" y2="540.8" stroke="#ec2a26" stroke-width="3.2"/>
<line x1="1286.5" y1="521.4" x2="1296" y2="521.4" stroke="#ec2a26" stroke-width="3.2"/>
<line x1="1286.5" y1="505.5" x2="1296" y2="505.5" stroke="#ec2a26" stroke-width="3.2"/>
<line x1="1286.5" y1="492" x2="1296" y2="492" stroke="#ec2a26" stroke-width="3.2"/>
<line x1="1286.5" y1="480.4" x2="1296" y2="480.4" stroke="#ec2a26" stroke-width="3.2"/>
<line x1="1286.5" y1="470.1" x2="1296" y2="470.1" stroke="#ec2a26" stroke-width="3.2"/>
<line x1="1278.5" y1="260.3" x2="1296" y2="260.3" stroke="#ec2a26" stroke-width="3.6"/>
<line x1="1286.5" y1="400.6" x2="1296" y2="400.6" stroke="#ec2a26" stroke-width="3.2"/>
<line x1="1286.5" y1="365.2" x2="1296" y2="365.2" stroke="#ec2a26" stroke-width="3.2"/>
<line x1="1286.5" y1="340.2" x2="1296" y2="340.2" stroke="#ec2a26" stroke-width="3.2"/>
<line x1="1286.5" y1="320.7" x2="1296" y2="320.7" stroke="#ec2a26" stroke-width="3.2"/>
<line x1="1286.5" y1="304.8" x2="1296" y2="304.8" stroke="#ec2a26" stroke-width="3.2"/>
<line x1="1286.5" y1="291.4" x2="1296" y2="291.4" stroke="#ec2a26" stroke-width="3.2"/>
<line x1="1286.5" y1="279.8" x2="1296" y2="279.8" stroke="#ec2a26" stroke-width="3.2"/>
<line x1="1286.5" y1="269.5" x2="1296" y2="269.5" stroke="#ec2a26" stroke-width="3.2"/>
<line x1="1278.5" y1="59.7" x2="1296" y2="59.7" stroke="#ec2a26" stroke-width="3.6"/>
<line x1="1286.5" y1="199.9" x2="1296" y2="199.9" stroke="#ec2a26" stroke-width="3.2"/>
<line x1="1286.5" y1="164.6" x2="1296" y2="164.6" stroke="#ec2a26" stroke-width="3.2"/>
<line x1="1286.5" y1="139.5" x2="1296" y2="139.5" stroke="#ec2a26" stroke-width="3.2"/>
<line x1="1286.5" y1="120.1" x2="1296" y2="120.1" stroke="#ec2a26" stroke-width="3.2"/>
<line x1="1286.5" y1="104.2" x2="1296" y2="104.2" stroke="#ec2a26" stroke-width="3.2"/>
<line x1="1286.5" y1="90.8" x2="1296" y2="90.8" stroke="#ec2a26" stroke-width="3.2"/>
<line x1="1286.5" y1="79.1" x2="1296" y2="79.1" stroke="#ec2a26" stroke-width="3.2"/>
<line x1="1286.5" y1="68.9" x2="1296" y2="68.9" stroke="#ec2a26" stroke-width="3.2"/>
<line x1="2181.0" y1="661.6" x2="2197.5" y2="661.6" stroke="#000" stroke-width="3.6"/>
<line x1="2189.0" y1="722" x2="2197.5" y2="722" stroke="#000" stroke-width="3.2"/>
<line x1="2189.0" y1="706.1" x2="2197.5" y2="706.1" stroke="#000" stroke-width="3.2"/>
<line x1="2189.0" y1="692.7" x2="2197.5" y2="692.7" stroke="#000" stroke-width="3.2"/>
<line x1="2189.0" y1="681" x2="2197.5" y2="681" stroke="#000" stroke-width="3.2"/>
<line x1="2189.0" y1="670.8" x2="2197.5" y2="670.8" stroke="#000" stroke-width="3.2"/>
<line x1="2181.0" y1="461" x2="2197.5" y2="461" stroke="#000" stroke-width="3.6"/>
<line x1="2189.0" y1="601.2" x2="2197.5" y2="601.2" stroke="#000" stroke-width="3.2"/>
<line x1="2189.0" y1="565.9" x2="2197.5" y2="565.9" stroke="#000" stroke-width="3.2"/>
<line x1="2189.0" y1="540.8" x2="2197.5" y2="540.8" stroke="#000" stroke-width="3.2"/>
<line x1="2189.0" y1="521.4" x2="2197.5" y2="521.4" stroke="#000" stroke-width="3.2"/>
<line x1="2189.0" y1="505.5" x2="2197.5" y2="505.5" stroke="#000" stroke-width="3.2"/>
<line x1="2189.0" y1="492" x2="2197.5" y2="492" stroke="#000" stroke-width="3.2"/>
<line x1="2189.0" y1="480.4" x2="2197.5" y2="480.4" stroke="#000" stroke-width="3.2"/>
<line x1="2189.0" y1="470.1" x2="2197.5" y2="470.1" stroke="#000" stroke-width="3.2"/>
<line x1="2181.0" y1="260.3" x2="2197.5" y2="260.3" stroke="#000" stroke-width="3.6"/>
<line x1="2189.0" y1="400.6" x2="2197.5" y2="400.6" stroke="#000" stroke-width="3.2"/>
<line x1="2189.0" y1="365.2" x2="2197.5" y2="365.2" stroke="#000" stroke-width="3.2"/>
<line x1="2189.0" y1="340.2" x2="2197.5" y2="340.2" stroke="#000" stroke-width="3.2"/>
<line x1="2189.0" y1="320.7" x2="2197.5" y2="320.7" stroke="#000" stroke-width="3.2"/>
<line x1="2189.0" y1="304.8" x2="2197.5" y2="304.8" stroke="#000" stroke-width="3.2"/>
<line x1="2189.0" y1="291.4" x2="2197.5" y2="291.4" stroke="#000" stroke-width="3.2"/>
<line x1="2189.0" y1="279.8" x2="2197.5" y2="279.8" stroke="#000" stroke-width="3.2"/>
<line x1="2189.0" y1="269.5" x2="2197.5" y2="269.5" stroke="#000" stroke-width="3.2"/>
<line x1="2181.0" y1="59.7" x2="2197.5" y2="59.7" stroke="#000" stroke-width="3.6"/>
<line x1="2189.0" y1="199.9" x2="2197.5" y2="199.9" stroke="#000" stroke-width="3.2"/>
<line x1="2189.0" y1="164.6" x2="2197.5" y2="164.6" stroke="#000" stroke-width="3.2"/>
<line x1="2189.0" y1="139.5" x2="2197.5" y2="139.5" stroke="#000" stroke-width="3.2"/>
<line x1="2189.0" y1="120.1" x2="2197.5" y2="120.1" stroke="#000" stroke-width="3.2"/>
<line x1="2189.0" y1="104.2" x2="2197.5" y2="104.2" stroke="#000" stroke-width="3.2"/>
<line x1="2189.0" y1="90.8" x2="2197.5" y2="90.8" stroke="#000" stroke-width="3.2"/>
<line x1="2189.0" y1="79.1" x2="2197.5" y2="79.1" stroke="#000" stroke-width="3.2"/>
<line x1="2189.0" y1="68.9" x2="2197.5" y2="68.9" stroke="#000" stroke-width="3.2"/>
<line x1="1296" y1="722" x2="1296" y2="732" stroke="#000" stroke-width="3.4"/>
<line x1="1344.1" y1="722" x2="1344.1" y2="732" stroke="#000" stroke-width="3.4"/>
<line x1="1378.2" y1="722" x2="1378.2" y2="732" stroke="#000" stroke-width="3.4"/>
<line x1="1404.7" y1="722" x2="1404.7" y2="732" stroke="#000" stroke-width="3.4"/>
<line x1="1426.3" y1="722" x2="1426.3" y2="732" stroke="#000" stroke-width="3.4"/>
<line x1="1444.6" y1="722" x2="1444.6" y2="732" stroke="#000" stroke-width="3.4"/>
<line x1="1460.4" y1="722" x2="1460.4" y2="732" stroke="#000" stroke-width="3.4"/>
<line x1="1474.4" y1="722" x2="1474.4" y2="732" stroke="#000" stroke-width="3.4"/>
<line x1="1486.9" y1="722" x2="1486.9" y2="738" stroke="#000" stroke-width="3.4"/>
<line x1="1569.1" y1="722" x2="1569.1" y2="732" stroke="#000" stroke-width="3.4"/>
<line x1="1617.2" y1="722" x2="1617.2" y2="732" stroke="#000" stroke-width="3.4"/>
<line x1="1651.3" y1="722" x2="1651.3" y2="732" stroke="#000" stroke-width="3.4"/>
<line x1="1677.8" y1="722" x2="1677.8" y2="732" stroke="#000" stroke-width="3.4"/>
<line x1="1699.4" y1="722" x2="1699.4" y2="732" stroke="#000" stroke-width="3.4"/>
<line x1="1717.7" y1="722" x2="1717.7" y2="732" stroke="#000" stroke-width="3.4"/>
<line x1="1733.5" y1="722" x2="1733.5" y2="732" stroke="#000" stroke-width="3.4"/>
<line x1="1747.5" y1="722" x2="1747.5" y2="732" stroke="#000" stroke-width="3.4"/>
<line x1="1760" y1="722" x2="1760" y2="738" stroke="#000" stroke-width="3.4"/>
<line x1="1842.2" y1="722" x2="1842.2" y2="732" stroke="#000" stroke-width="3.4"/>
<line x1="1890.3" y1="722" x2="1890.3" y2="732" stroke="#000" stroke-width="3.4"/>
<line x1="1924.4" y1="722" x2="1924.4" y2="732" stroke="#000" stroke-width="3.4"/>
<line x1="1950.9" y1="722" x2="1950.9" y2="732" stroke="#000" stroke-width="3.4"/>
<line x1="1972.5" y1="722" x2="1972.5" y2="732" stroke="#000" stroke-width="3.4"/>
<line x1="1990.8" y1="722" x2="1990.8" y2="732" stroke="#000" stroke-width="3.4"/>
<line x1="2006.6" y1="722" x2="2006.6" y2="732" stroke="#000" stroke-width="3.4"/>
<line x1="2020.6" y1="722" x2="2020.6" y2="732" stroke="#000" stroke-width="3.4"/>
<line x1="2033.1" y1="722" x2="2033.1" y2="738" stroke="#000" stroke-width="3.4"/>
<line x1="2115.3" y1="722" x2="2115.3" y2="732" stroke="#000" stroke-width="3.4"/>
<line x1="2163.4" y1="722" x2="2163.4" y2="732" stroke="#000" stroke-width="3.4"/>
<line x1="2197.5" y1="722" x2="2197.5" y2="732" stroke="#000" stroke-width="3.4"/>
<text x="1179.69" y="80.20" font-size="54.5" font-weight="bold" fill="#ec2a26" font-family="'Liberation Sans', Arial, sans-serif" textLength="60.10" lengthAdjust="spacingAndGlyphs">10</text>
<text x="1237.00" y="50.90" font-size="33" font-weight="bold" fill="#ec2a26" font-family="'Liberation Sans', Arial, sans-serif" textLength="35.86" lengthAdjust="spacingAndGlyphs">10</text>
<text x="1197.57" y="280.63" font-size="54.5" font-weight="bold" fill="#ec2a26" font-family="'Liberation Sans', Arial, sans-serif" textLength="58.66" lengthAdjust="spacingAndGlyphs">10</text>
<text x="1254.84" y="250.93" font-size="33" font-weight="bold" fill="#ec2a26" font-family="'Liberation Sans', Arial, sans-serif">9</text>
<text x="1197.57" y="481.27" font-size="54.5" font-weight="bold" fill="#ec2a26" font-family="'Liberation Sans', Arial, sans-serif" textLength="58.66" lengthAdjust="spacingAndGlyphs">10</text>
<text x="1254.67" y="451.57" font-size="33" font-weight="bold" fill="#ec2a26" font-family="'Liberation Sans', Arial, sans-serif">8</text>
<text x="1197.57" y="681.90" font-size="54.5" font-weight="bold" fill="#ec2a26" font-family="'Liberation Sans', Arial, sans-serif" textLength="58.66" lengthAdjust="spacingAndGlyphs">10</text>
<text x="1255.17" y="652.20" font-size="33" font-weight="bold" fill="#ec2a26" font-family="'Liberation Sans', Arial, sans-serif">7</text>
<text x="2210.02" y="79.90" font-size="54.5" font-weight="bold" fill="#000" font-family="'Liberation Sans', Arial, sans-serif" textLength="59.55" lengthAdjust="spacingAndGlyphs">10</text>
<text x="2269.26" y="50.10" font-size="32.5" font-weight="bold" fill="#000" font-family="'Liberation Sans', Arial, sans-serif" textLength="33.26" lengthAdjust="spacingAndGlyphs">17</text>
<text x="2210.02" y="280.53" font-size="54.5" font-weight="bold" fill="#000" font-family="'Liberation Sans', Arial, sans-serif" textLength="59.55" lengthAdjust="spacingAndGlyphs">10</text>
<text x="2269.28" y="250.73" font-size="32.5" font-weight="bold" fill="#000" font-family="'Liberation Sans', Arial, sans-serif" textLength="32.93" lengthAdjust="spacingAndGlyphs">16</text>
<text x="2210.02" y="481.17" font-size="54.5" font-weight="bold" fill="#000" font-family="'Liberation Sans', Arial, sans-serif" textLength="59.55" lengthAdjust="spacingAndGlyphs">10</text>
<text x="2269.29" y="451.37" font-size="32.5" font-weight="bold" fill="#000" font-family="'Liberation Sans', Arial, sans-serif" textLength="32.61" lengthAdjust="spacingAndGlyphs">15</text>
<text x="2210.02" y="681.80" font-size="54.5" font-weight="bold" fill="#000" font-family="'Liberation Sans', Arial, sans-serif" textLength="59.55" lengthAdjust="spacingAndGlyphs">10</text>
<text x="2269.33" y="652.00" font-size="32.5" font-weight="bold" fill="#000" font-family="'Liberation Sans', Arial, sans-serif" textLength="31.98" lengthAdjust="spacingAndGlyphs">14</text>
<text x="1443.05" y="794.20" font-size="54" font-weight="bold" fill="#000" font-family="'Liberation Sans', Arial, sans-serif" textLength="60.43" lengthAdjust="spacingAndGlyphs">10</text>
<text x="1502.85" y="764.60" font-size="31" font-weight="bold" fill="#000" font-family="'Liberation Sans', Arial, sans-serif">-7</text>
<text x="1716.15" y="794.20" font-size="54" font-weight="bold" fill="#000" font-family="'Liberation Sans', Arial, sans-serif" textLength="60.43" lengthAdjust="spacingAndGlyphs">10</text>
<text x="1775.94" y="764.60" font-size="31" font-weight="bold" fill="#000" font-family="'Liberation Sans', Arial, sans-serif">-6</text>
<text x="1989.25" y="794.20" font-size="54" font-weight="bold" fill="#000" font-family="'Liberation Sans', Arial, sans-serif" textLength="60.43" lengthAdjust="spacingAndGlyphs">10</text>
<text x="2049.04" y="764.60" font-size="31" font-weight="bold" fill="#000" font-family="'Liberation Sans', Arial, sans-serif">-5</text>
<text transform="translate(1152.60,646.71) rotate(-90)" font-size="54.5" font-weight="bold" fill="#ec2a26" font-family="'Liberation Sans', Arial, sans-serif" textLength="491.85" lengthAdjust="spacingAndGlyphs">Responsivity (A/W)</text>
<text transform="translate(2354.70,673.47) rotate(-90)" font-size="54.5" font-weight="bold" fill="#000" font-family="'Liberation Sans', Arial, sans-serif" textLength="489.32" lengthAdjust="spacingAndGlyphs" xml:space="preserve">Detectivity  (Jones)</text>
<text x="1436.14" y="852.40" font-size="52" font-weight="bold" fill="#000" font-family="'Liberation Sans', Arial, sans-serif" textLength="582.45" lengthAdjust="spacingAndGlyphs">Irradiance power (W/cm</text>
<text x="2018.65" y="826.80" font-size="31" font-weight="bold" fill="#000" font-family="'Liberation Sans', Arial, sans-serif" textLength="21.44" lengthAdjust="spacingAndGlyphs">2</text>
<text x="2039.75" y="852.40" font-size="52" font-weight="bold" fill="#000" font-family="'Liberation Sans', Arial, sans-serif" textLength="16.77" lengthAdjust="spacingAndGlyphs">)</text>
<line x1="1467.5" y1="195" x2="1655.8" y2="284.9" stroke="#000" stroke-width="4.4"/>
<line x1="1706.2" y1="312.3" x2="1932.1" y2="450.8" stroke="#000" stroke-width="4.4"/>
<line x1="1981.5" y1="480" x2="2042.8" y2="515.1" stroke="#000" stroke-width="4.4"/>
<circle cx="1441.6" cy="182.6" r="21.2" fill="#000"/>
<circle cx="1681.7" cy="297.3" r="21.2" fill="#000"/>
<circle cx="1956.6" cy="465.8" r="21.2" fill="#000"/>
<circle cx="2067.7" cy="529.3" r="21.2" fill="#000"/>
<line x1="1467.6" y1="291.1" x2="1655.7" y2="380" stroke="#ec2a26" stroke-width="4.4"/>
<line x1="1706.1" y1="407.3" x2="1932.2" y2="547" stroke="#ec2a26" stroke-width="4.4"/>
<line x1="1981.6" y1="576.2" x2="2042.7" y2="610.4" stroke="#ec2a26" stroke-width="4.4"/>
<circle cx="1441.6" cy="278.9" r="21.2" fill="#ec2a26"/>
<circle cx="1681.7" cy="392.2" r="21.2" fill="#ec2a26"/>
<circle cx="1956.6" cy="562.1" r="21.2" fill="#ec2a26"/>
<circle cx="2067.7" cy="624.5" r="21.2" fill="#ec2a26"/>
<path d="M1786,360.5 L1792,357.6 H1875" fill="none" stroke="#000" stroke-width="4.4"/>
<path d="M1910.5,358.4 L1873,348.5 Q1870,358.4 1873,368.3 Z" fill="#000"/>
<line x1="1622" y1="375.7" x2="1528" y2="375.7" stroke="#ec2a26" stroke-width="5"/>
<path d="M1493.5,375.7 L1531,365 Q1534,375.7 1531,386.4 Z" fill="#ec2a26"/>
</g>
<g id="pc">
<text x="14.98" y="916.50" font-size="63" fill="#000" font-family="'Liberation Sans', Arial, sans-serif" textLength="35.81" lengthAdjust="spacingAndGlyphs">c</text>
<rect x="148.5" y="902.2" width="900.9" height="662" fill="none" stroke="#000" stroke-width="4" stroke-linejoin="round"/>
<clipPath id="cclip"><rect x="144.6" y="902.2" width="902.7" height="660.2"/></clipPath>
<g clip-path="url(#cclip)">
<polyline points="149.1,1559.2 152.1,1561.3 155.1,1559.7 158.2,1560.9 161.2,1558.8 164.3,1562 167.3,1560.9 170.3,1559.3 173.4,1559 176.4,1558.7 179.5,1560.2 182.5,1560.7 185.5,1558 188.6,1559.4 191.6,1561.6 194.7,1561.1 197.7,1555.3 200.8,1561 203.8,1559.7 206.8,1558.8 209.9,1561.4 210.4,1560.4 212.9,1561.2 216,1560.7 219,1561.4 222,1560.8 225.1,1559.7 228.1,1558.7 231.2,1560.9 234.2,1556.9 237.2,1559.6 240.3,1557.7 243.3,1560.8 246.4,1557.5 249.4,1561.2 252.4,1559.2 255.5,1560.6 258.5,1552.8 261.6,1561 263.4,1556.6 264.6,1558.9 267.6,1478.6 269.7,1368.9 270.7,1340.3 271.2,1260.8 273.7,1258 276.8,1219.9 279.8,1215.2 282.8,1212.4 285.9,1210.3 288.9,1197.5 292,1186.9 295,1178.2 298,1165.1 301.1,1147.1 304.1,1130 307.2,1151.9 310.2,1133.6 313.3,1116.8 316.3,1129.7 319.3,1121.8 322.4,1126.4 325.4,1145.3 328.5,1118.5 331.5,1142 334.5,1096.2 337.6,1136.7 340.6,1116.4 343.7,1128.1 346.7,1111.9 349.7,1138.4 352.8,1111.1 355.8,1130.2 358.9,1106.6 361.9,1117.5 364.9,1125.7 368,1141.4 371,1115 374.1,1119 377.1,1088.7 380.1,1115.6 383.2,1099.7 386.1,1075.7 386.2,1100.5 389.3,1104.3 392.3,1113.2 395.3,1127.3 398.4,1143.5 398.5,1175.5 401.4,1148.8 403,1153.4 404.5,1136.6 407.5,1118 410.5,1100.6 413.6,1108 416.6,1105 417.6,1078.8 419.7,1108.5 422.7,1109.7 425.8,1118.3 428.8,1108.2 431.8,1090.9 434.9,1126.6 437.9,1132.7 441,1087.3 444,1116.4 447,1103.9 450.1,1105.4 453.1,1139.5 456.2,1078.5 459.2,1089.6 462.2,1116.7 465.3,1106.7 468.3,1117.3 471.4,1134.4 474.4,1121.1 477.4,1112.6 480.5,1099.8 483.5,1106.6 486.3,1243.1 486.6,1249.2 489.6,1331.6 490.3,1350 492.6,1372.3 495.7,1392.7 498.7,1401.1 501.8,1404.3 504.8,1407 507.8,1401.1 510.9,1422.1 513.9,1415.3 517,1417.9 520,1433.5 523,1450 526.1,1448.4 529.1,1444.9 532.2,1447.2 535.2,1442.5 538.3,1464.9 541.3,1460.2 544.3,1458.3 547.4,1467.5 550.4,1487.3 553.5,1464.4 556.5,1454 559.5,1465.1 562.6,1480.8 565.6,1478.1 568.7,1474.4 571.7,1458.3 574.7,1473.6 577.8,1478.6 580.8,1468.9 583.9,1482.6 586.9,1469.2 589.9,1489.8 593,1489.4 596,1481.7 601.4,1504.1 603.8,1509.2 606.3,1514.3 608.5,1500 610.6,1485.8 612.9,1499.4 615.2,1513 620.2,1468 624.8,1499.7 627.2,1490.5 629.5,1481.3 631.6,1495.6 633.8,1509.9 635.8,1506.4 637.8,1502.9 640.1,1509.9 642.4,1516.9 644.7,1520 647,1523.2 649.3,1521.9 651.7,1520.6 654,1510.8 656.3,1501 658.6,1500.7 660.9,1500.4 663.3,1503.5 665.6,1506.7 667.9,1505.4 670.2,1504.1 672.3,1501 674.5,1497.8 676.8,1499.7 679.2,1501.6 681.5,1498.5 683.8,1495.3 686.3,1483.9 688.8,1472.5 692.7,1513 695,1514.3 697.3,1515.5 699.5,1509.2 701.7,1502.9 704.2,1504.2 706.6,1505.5 708.9,1503.5 711.2,1501.6 713.6,1497.2 715.9,1492.7 720.5,1294.7 725.2,1192.1 727.4,1179.1 729.6,1166.1 731.8,1163 734,1159.8 736.2,1154 738.4,1148.2 740.8,1136.3 743.1,1124.4 745.8,1135.8 748.4,1147.1 750.3,1132.9 752.3,1118.6 755,1126.3 757.8,1133.9 759.7,1122 761.6,1110.2 763.8,1107 766,1103.8 768.5,1099.9 770.9,1095.9 773.1,1101.2 775.3,1106.5 780,1146.7 785.2,1114.9 787.2,1121.3 789.1,1127.6 791.6,1131.3 794.1,1135 796.8,1133.4 799.6,1131.8 801.2,1121.3 802.9,1110.7 805.1,1108.6 807.3,1106.5 809.8,1113.9 812.3,1121.3 814.5,1112.8 816.7,1104.4 818.9,1101.2 821.1,1098 823.3,1094.3 825.6,1090.6 828.3,1094.3 831.1,1098 832.4,1084.3 833.8,1070.6 837.1,1065.8 840.4,1061.1 844.3,1099 846.8,1095.9 849.3,1092.7 852.6,1142.4 854.8,1145 857,1147.7 860,1147.7 863.1,1147.7 866.4,1112.8 871.9,1078 874.4,1091.5 876.9,1105.1 879,1107.4 881.1,1109.7 883.4,1103.9 885.7,1098.1 888,1102.2 890.2,1106.2 892.4,1114.9 894.5,1123.7 896.9,1130.7 899.4,1137.7 903.7,1103.8 905.8,1093.3 907.9,1082.8 910.3,1075.8 912.8,1068.9 914.9,1073 917.1,1077.1 921.9,1110.8 926.2,1079.4 928.6,1078.2 931,1077.1 933.5,1065.4 935.9,1053.7 940.5,1215.2 944.7,1316.5 949.7,1348.6 953.8,1390.3 958.3,1425 960.9,1413.8 963.4,1402.6 967.8,1432.4 969.8,1437.5 971.7,1442.6 974.4,1449.1 977.1,1455.6 979.2,1449.1 981.4,1442.6 983.8,1431.9 986.3,1421.2 990.7,1457.5 993.1,1461.7 995.5,1465.9 997.7,1452.4 999.9,1438.9 1002.3,1444 1004.7,1449.1 1006.9,1451.9 1009.1,1454.8 1011.3,1445.9 1013.5,1437 1015.9,1439.4 1018.3,1441.7 1020.3,1445.9 1022.2,1450.1 1024.6,1459.4 1027.1,1468.7 1029.5,1472.4 1031.9,1476.1 1033.9,1470.1 1035.8,1464.1 1038.3,1459.4 1040.7,1454.8 1043.1,1457.1 1045.5,1459.4" fill="none" stroke="#ec2a26" stroke-width="2.2" stroke-linejoin="round"/>
<g fill="#ec2a26"><circle cx="149.1" cy="1559.2" r="9.8"/><circle cx="152.1" cy="1561.3" r="9.8"/><circle cx="155.1" cy="1559.7" r="9.8"/><circle cx="158.2" cy="1560.9" r="9.8"/><circle cx="161.2" cy="1558.8" r="9.8"/><circle cx="164.3" cy="1562" r="9.8"/><circle cx="167.3" cy="1560.9" r="9.8"/><circle cx="170.3" cy="1559.3" r="9.8"/><circle cx="173.4" cy="1559" r="9.8"/><circle cx="176.4" cy="1558.7" r="9.8"/><circle cx="179.5" cy="1560.2" r="9.8"/><circle cx="182.5" cy="1560.7" r="9.8"/><circle cx="185.5" cy="1558" r="9.8"/><circle cx="188.6" cy="1559.4" r="9.8"/><circle cx="191.6" cy="1561.6" r="9.8"/><circle cx="194.7" cy="1561.1" r="9.8"/><circle cx="197.7" cy="1555.3" r="9.8"/><circle cx="200.8" cy="1561" r="9.8"/><circle cx="203.8" cy="1559.7" r="9.8"/><circle cx="206.8" cy="1558.8" r="9.8"/><circle cx="209.9" cy="1561.4" r="9.8"/><circle cx="210.4" cy="1560.4" r="9.8"/><circle cx="212.9" cy="1561.2" r="9.8"/><circle cx="216" cy="1560.7" r="9.8"/><circle cx="219" cy="1561.4" r="9.8"/><circle cx="222" cy="1560.8" r="9.8"/><circle cx="225.1" cy="1559.7" r="9.8"/><circle cx="228.1" cy="1558.7" r="9.8"/><circle cx="231.2" cy="1560.9" r="9.8"/><circle cx="234.2" cy="1556.9" r="9.8"/><circle cx="237.2" cy="1559.6" r="9.8"/><circle cx="240.3" cy="1557.7" r="9.8"/><circle cx="243.3" cy="1560.8" r="9.8"/><circle cx="246.4" cy="1557.5" r="9.8"/><circle cx="249.4" cy="1561.2" r="9.8"/><circle cx="252.4" cy="1559.2" r="9.8"/><circle cx="255.5" cy="1560.6" r="9.8"/><circle cx="258.5" cy="1552.8" r="9.8"/><circle cx="261.6" cy="1561" r="9.8"/><circle cx="263.4" cy="1556.6" r="9.8"/><circle cx="264.6" cy="1558.9" r="9.8"/><circle cx="267.6" cy="1478.6" r="9.8"/><circle cx="269.7" cy="1368.9" r="9.8"/><circle cx="270.7" cy="1340.3" r="9.8"/><circle cx="271.2" cy="1260.8" r="9.8"/><circle cx="273.7" cy="1258" r="9.8"/><circle cx="276.8" cy="1219.9" r="9.8"/><circle cx="279.8" cy="1215.2" r="9.8"/><circle cx="282.8" cy="1212.4" r="9.8"/><circle cx="285.9" cy="1210.3" r="9.8"/><circle cx="288.9" cy="1197.5" r="9.8"/><circle cx="292" cy="1186.9" r="9.8"/><circle cx="295" cy="1178.2" r="9.8"/><circle cx="298" cy="1165.1" r="9.8"/><circle cx="301.1" cy="1147.1" r="9.8"/><circle cx="304.1" cy="1130" r="9.8"/><circle cx="307.2" cy="1151.9" r="9.8"/><circle cx="310.2" cy="1133.6" r="9.8"/><circle cx="313.3" cy="1116.8" r="9.8"/><circle cx="316.3" cy="1129.7" r="9.8"/><circle cx="319.3" cy="1121.8" r="9.8"/><circle cx="322.4" cy="1126.4" r="9.8"/><circle cx="325.4" cy="1145.3" r="9.8"/><circle cx="328.5" cy="1118.5" r="9.8"/><circle cx="331.5" cy="1142" r="9.8"/><circle cx="334.5" cy="1096.2" r="9.8"/><circle cx="337.6" cy="1136.7" r="9.8"/><circle cx="340.6" cy="1116.4" r="9.8"/><circle cx="343.7" cy="1128.1" r="9.8"/><circle cx="346.7" cy="1111.9" r="9.8"/><circle cx="349.7" cy="1138.4" r="9.8"/><circle cx="352.8" cy="1111.1" r="9.8"/><circle cx="355.8" cy="1130.2" r="9.8"/><circle cx="358.9" cy="1106.6" r="9.8"/><circle cx="361.9" cy="1117.5" r="9.8"/><circle cx="364.9" cy="1125.7" r="9.8"/><circle cx="368" cy="1141.4" r="9.8"/><circle cx="371" cy="1115" r="9.8"/><circle cx="374.1" cy="1119" r="9.8"/><circle cx="377.1" cy="1088.7" r="9.8"/><circle cx="380.1" cy="1115.6" r="9.8"/><circle cx="383.2" cy="1099.7" r="9.8"/><circle cx="386.1" cy="1075.7" r="9.8"/><circle cx="386.2" cy="1100.5" r="9.8"/><circle cx="389.3" cy="1104.3" r="9.8"/><circle cx="392.3" cy="1113.2" r="9.8"/><circle cx="395.3" cy="1127.3" r="9.8"/><circle cx="398.4" cy="1143.5" r="9.8"/><circle cx="398.5" cy="1175.5" r="9.8"/><circle cx="401.4" cy="1148.8" r="9.8"/><circle cx="403" cy="1153.4" r="9.8"/><circle cx="404.5" cy="1136.6" r="9.8"/><circle cx="407.5" cy="1118" r="9.8"/><circle cx="410.5" cy="1100.6" r="9.8"/><circle cx="413.6" cy="1108" r="9.8"/><circle cx="416.6" cy="1105" r="9.8"/><circle cx="417.6" cy="1078.8" r="9.8"/><circle cx="419.7" cy="1108.5" r="9.8"/><circle cx="422.7" cy="1109.7" r="9.8"/><circle cx="425.8" cy="1118.3" r="9.8"/><circle cx="428.8" cy="1108.2" r="9.8"/><circle cx="431.8" cy="1090.9" r="9.8"/><circle cx="434.9" cy="1126.6" r="9.8"/><circle cx="437.9" cy="1132.7" r="9.8"/><circle cx="441" cy="1087.3" r="9.8"/><circle cx="444" cy="1116.4" r="9.8"/><circle cx="447" cy="1103.9" r="9.8"/><circle cx="450.1" cy="1105.4" r="9.8"/><circle cx="453.1" cy="1139.5" r="9.8"/><circle cx="456.2" cy="1078.5" r="9.8"/><circle cx="459.2" cy="1089.6" r="9.8"/><circle cx="462.2" cy="1116.7" r="9.8"/><circle cx="465.3" cy="1106.7" r="9.8"/><circle cx="468.3" cy="1117.3" r="9.8"/><circle cx="471.4" cy="1134.4" r="9.8"/><circle cx="474.4" cy="1121.1" r="9.8"/><circle cx="477.4" cy="1112.6" r="9.8"/><circle cx="480.5" cy="1099.8" r="9.8"/><circle cx="483.5" cy="1106.6" r="9.8"/><circle cx="486.3" cy="1243.1" r="9.8"/><circle cx="486.6" cy="1249.2" r="9.8"/><circle cx="489.6" cy="1331.6" r="9.8"/><circle cx="490.3" cy="1350" r="9.8"/><circle cx="492.6" cy="1372.3" r="9.8"/><circle cx="495.7" cy="1392.7" r="9.8"/><circle cx="498.7" cy="1401.1" r="9.8"/><circle cx="501.8" cy="1404.3" r="9.8"/><circle cx="504.8" cy="1407" r="9.8"/><circle cx="507.8" cy="1401.1" r="9.8"/><circle cx="510.9" cy="1422.1" r="9.8"/><circle cx="513.9" cy="1415.3" r="9.8"/><circle cx="517" cy="1417.9" r="9.8"/><circle cx="520" cy="1433.5" r="9.8"/><circle cx="523" cy="1450" r="9.8"/><circle cx="526.1" cy="1448.4" r="9.8"/><circle cx="529.1" cy="1444.9" r="9.8"/><circle cx="532.2" cy="1447.2" r="9.8"/><circle cx="535.2" cy="1442.5" r="9.8"/><circle cx="538.3" cy="1464.9" r="9.8"/><circle cx="541.3" cy="1460.2" r="9.8"/><circle cx="544.3" cy="1458.3" r="9.8"/><circle cx="547.4" cy="1467.5" r="9.8"/><circle cx="550.4" cy="1487.3" r="9.8"/><circle cx="553.5" cy="1464.4" r="9.8"/><circle cx="556.5" cy="1454" r="9.8"/><circle cx="559.5" cy="1465.1" r="9.8"/><circle cx="562.6" cy="1480.8" r="9.8"/><circle cx="565.6" cy="1478.1" r="9.8"/><circle cx="568.7" cy="1474.4" r="9.8"/><circle cx="571.7" cy="1458.3" r="9.8"/><circle cx="574.7" cy="1473.6" r="9.8"/><circle cx="577.8" cy="1478.6" r="9.8"/><circle cx="580.8" cy="1468.9" r="9.8"/><circle cx="583.9" cy="1482.6" r="9.8"/><circle cx="586.9" cy="1469.2" r="9.8"/><circle cx="589.9" cy="1489.8" r="9.8"/><circle cx="593" cy="1489.4" r="9.8"/><circle cx="596" cy="1481.7" r="9.8"/><circle cx="601.4" cy="1504.1" r="9.8"/><circle cx="603.8" cy="1509.2" r="9.8"/><circle cx="606.3" cy="1514.3" r="9.8"/><circle cx="608.5" cy="1500" r="9.8"/><circle cx="610.6" cy="1485.8" r="9.8"/><circle cx="612.9" cy="1499.4" r="9.8"/><circle cx="615.2" cy="1513" r="9.8"/><circle cx="620.2" cy="1468" r="9.8"/><circle cx="624.8" cy="1499.7" r="9.8"/><circle cx="627.2" cy="1490.5" r="9.8"/><circle cx="629.5" cy="1481.3" r="9.8"/><circle cx="631.6" cy="1495.6" r="9.8"/><circle cx="633.8" cy="1509.9" r="9.8"/><circle cx="635.8" cy="1506.4" r="9.8"/><circle cx="637.8" cy="1502.9" r="9.8"/><circle cx="640.1" cy="1509.9" r="9.8"/><circle cx="642.4" cy="1516.9" r="9.8"/><circle cx="644.7" cy="1520" r="9.8"/><circle cx="647" cy="1523.2" r="9.8"/><circle cx="649.3" cy="1521.9" r="9.8"/><circle cx="651.7" cy="1520.6" r="9.8"/><circle cx="654" cy="1510.8" r="9.8"/><circle cx="656.3" cy="1501" r="9.8"/><circle cx="658.6" cy="1500.7" r="9.8"/><circle cx="660.9" cy="1500.4" r="9.8"/><circle cx="663.3" cy="1503.5" r="9.8"/><circle cx="665.6" cy="1506.7" r="9.8"/><circle cx="667.9" cy="1505.4" r="9.8"/><circle cx="670.2" cy="1504.1" r="9.8"/><circle cx="672.3" cy="1501" r="9.8"/><circle cx="674.5" cy="1497.8" r="9.8"/><circle cx="676.8" cy="1499.7" r="9.8"/><circle cx="679.2" cy="1501.6" r="9.8"/><circle cx="681.5" cy="1498.5" r="9.8"/><circle cx="683.8" cy="1495.3" r="9.8"/><circle cx="686.3" cy="1483.9" r="9.8"/><circle cx="688.8" cy="1472.5" r="9.8"/><circle cx="692.7" cy="1513" r="9.8"/><circle cx="695" cy="1514.3" r="9.8"/><circle cx="697.3" cy="1515.5" r="9.8"/><circle cx="699.5" cy="1509.2" r="9.8"/><circle cx="701.7" cy="1502.9" r="9.8"/><circle cx="704.2" cy="1504.2" r="9.8"/><circle cx="706.6" cy="1505.5" r="9.8"/><circle cx="708.9" cy="1503.5" r="9.8"/><circle cx="711.2" cy="1501.6" r="9.8"/><circle cx="713.6" cy="1497.2" r="9.8"/><circle cx="715.9" cy="1492.7" r="9.8"/><circle cx="720.5" cy="1294.7" r="9.8"/><circle cx="725.2" cy="1192.1" r="9.8"/><circle cx="727.4" cy="1179.1" r="9.8"/><circle cx="729.6" cy="1166.1" r="9.8"/><circle cx="731.8" cy="1163" r="9.8"/><circle cx="734" cy="1159.8" r="9.8"/><circle cx="736.2" cy="1154" r="9.8"/><circle cx="738.4" cy="1148.2" r="9.8"/><circle cx="740.8" cy="1136.3" r="9.8"/><circle cx="743.1" cy="1124.4" r="9.8"/><circle cx="745.8" cy="1135.8" r="9.8"/><circle cx="748.4" cy="1147.1" r="9.8"/><circle cx="750.3" cy="1132.9" r="9.8"/><circle cx="752.3" cy="1118.6" r="9.8"/><circle cx="755" cy="1126.3" r="9.8"/><circle cx="757.8" cy="1133.9" r="9.8"/><circle cx="759.7" cy="1122" r="9.8"/><circle cx="761.6" cy="1110.2" r="9.8"/><circle cx="763.8" cy="1107" r="9.8"/><circle cx="766" cy="1103.8" r="9.8"/><circle cx="768.5" cy="1099.9" r="9.8"/><circle cx="770.9" cy="1095.9" r="9.8"/><circle cx="773.1" cy="1101.2" r="9.8"/><circle cx="775.3" cy="1106.5" r="9.8"/><circle cx="780" cy="1146.7" r="9.8"/><circle cx="785.2" cy="1114.9" r="9.8"/><circle cx="787.2" cy="1121.3" r="9.8"/><circle cx="789.1" cy="1127.6" r="9.8"/><circle cx="791.6" cy="1131.3" r="9.8"/><circle cx="794.1" cy="1135" r="9.8"/><circle cx="796.8" cy="1133.4" r="9.8"/><circle cx="799.6" cy="1131.8" r="9.8"/><circle cx="801.2" cy="1121.3" r="9.8"/><circle cx="802.9" cy="1110.7" r="9.8"/><circle cx="805.1" cy="1108.6" r="9.8"/><circle cx="807.3" cy="1106.5" r="9.8"/><circle cx="809.8" cy="1113.9" r="9.8"/><circle cx="812.3" cy="1121.3" r="9.8"/><circle cx="814.5" cy="1112.8" r="9.8"/><circle cx="816.7" cy="1104.4" r="9.8"/><circle cx="818.9" cy="1101.2" r="9.8"/><circle cx="821.1" cy="1098" r="9.8"/><circle cx="823.3" cy="1094.3" r="9.8"/><circle cx="825.6" cy="1090.6" r="9.8"/><circle cx="828.3" cy="1094.3" r="9.8"/><circle cx="831.1" cy="1098" r="9.8"/><circle cx="832.4" cy="1084.3" r="9.8"/><circle cx="833.8" cy="1070.6" r="9.8"/><circle cx="837.1" cy="1065.8" r="9.8"/><circle cx="840.4" cy="1061.1" r="9.8"/><circle cx="844.3" cy="1099" r="9.8"/><circle cx="846.8" cy="1095.9" r="9.8"/><circle cx="849.3" cy="1092.7" r="9.8"/><circle cx="852.6" cy="1142.4" r="9.8"/><circle cx="854.8" cy="1145" r="9.8"/><circle cx="857" cy="1147.7" r="9.8"/><circle cx="860" cy="1147.7" r="9.8"/><circle cx="863.1" cy="1147.7" r="9.8"/><circle cx="866.4" cy="1112.8" r="9.8"/><circle cx="871.9" cy="1078" r="9.8"/><circle cx="874.4" cy="1091.5" r="9.8"/><circle cx="876.9" cy="1105.1" r="9.8"/><circle cx="879" cy="1107.4" r="9.8"/><circle cx="881.1" cy="1109.7" r="9.8"/><circle cx="883.4" cy="1103.9" r="9.8"/><circle cx="885.7" cy="1098.1" r="9.8"/><circle cx="888" cy="1102.2" r="9.8"/><circle cx="890.2" cy="1106.2" r="9.8"/><circle cx="892.4" cy="1114.9" r="9.8"/><circle cx="894.5" cy="1123.7" r="9.8"/><circle cx="896.9" cy="1130.7" r="9.8"/><circle cx="899.4" cy="1137.7" r="9.8"/><circle cx="903.7" cy="1103.8" r="9.8"/><circle cx="905.8" cy="1093.3" r="9.8"/><circle cx="907.9" cy="1082.8" r="9.8"/><circle cx="910.3" cy="1075.8" r="9.8"/><circle cx="912.8" cy="1068.9" r="9.8"/><circle cx="914.9" cy="1073" r="9.8"/><circle cx="917.1" cy="1077.1" r="9.8"/><circle cx="921.9" cy="1110.8" r="9.8"/><circle cx="926.2" cy="1079.4" r="9.8"/><circle cx="928.6" cy="1078.2" r="9.8"/><circle cx="931" cy="1077.1" r="9.8"/><circle cx="933.5" cy="1065.4" r="9.8"/><circle cx="935.9" cy="1053.7" r="9.8"/><circle cx="940.5" cy="1215.2" r="9.8"/><circle cx="944.7" cy="1316.5" r="9.8"/><circle cx="949.7" cy="1348.6" r="9.8"/><circle cx="953.8" cy="1390.3" r="9.8"/><circle cx="958.3" cy="1425" r="9.8"/><circle cx="960.9" cy="1413.8" r="9.8"/><circle cx="963.4" cy="1402.6" r="9.8"/><circle cx="967.8" cy="1432.4" r="9.8"/><circle cx="969.8" cy="1437.5" r="9.8"/><circle cx="971.7" cy="1442.6" r="9.8"/><circle cx="974.4" cy="1449.1" r="9.8"/><circle cx="977.1" cy="1455.6" r="9.8"/><circle cx="979.2" cy="1449.1" r="9.8"/><circle cx="981.4" cy="1442.6" r="9.8"/><circle cx="983.8" cy="1431.9" r="9.8"/><circle cx="986.3" cy="1421.2" r="9.8"/><circle cx="990.7" cy="1457.5" r="9.8"/><circle cx="993.1" cy="1461.7" r="9.8"/><circle cx="995.5" cy="1465.9" r="9.8"/><circle cx="997.7" cy="1452.4" r="9.8"/><circle cx="999.9" cy="1438.9" r="9.8"/><circle cx="1002.3" cy="1444" r="9.8"/><circle cx="1004.7" cy="1449.1" r="9.8"/><circle cx="1006.9" cy="1451.9" r="9.8"/><circle cx="1009.1" cy="1454.8" r="9.8"/><circle cx="1011.3" cy="1445.9" r="9.8"/><circle cx="1013.5" cy="1437" r="9.8"/><circle cx="1015.9" cy="1439.4" r="9.8"/><circle cx="1018.3" cy="1441.7" r="9.8"/><circle cx="1020.3" cy="1445.9" r="9.8"/><circle cx="1022.2" cy="1450.1" r="9.8"/><circle cx="1024.6" cy="1459.4" r="9.8"/><circle cx="1027.1" cy="1468.7" r="9.8"/><circle cx="1029.5" cy="1472.4" r="9.8"/><circle cx="1031.9" cy="1476.1" r="9.8"/><circle cx="1033.9" cy="1470.1" r="9.8"/><circle cx="1035.8" cy="1464.1" r="9.8"/><circle cx="1038.3" cy="1459.4" r="9.8"/><circle cx="1040.7" cy="1454.8" r="9.8"/><circle cx="1043.1" cy="1457.1" r="9.8"/><circle cx="1045.5" cy="1459.4" r="9.8"/></g>
<polyline points="149.1,1514.5 152.1,1519.3 155.1,1527.4 158.2,1536.4 161.2,1516 164.3,1520.8 167.3,1533.8 170.3,1520.5 173.4,1532.5 176.4,1520.2 179.5,1518.8 182.5,1517 185.5,1518.2 188.6,1518.6 191.6,1529.3 194.7,1523.1 197.7,1524.2 199.2,1482 200.8,1521.9 203.8,1517.7 206.8,1514.9 209.9,1506.5 212.9,1541.1 216,1516.7 219,1521.6 222,1501.3 225.1,1512.3 228.1,1533.5 231.2,1516.7 234.2,1524.2 237.2,1511.8 240.3,1528.6 243.3,1520.8 246.4,1521 249.4,1520.8 252.4,1524.8 255.5,1535.1 258.5,1516.2 261.6,1511.8 264.6,1519.3 267.6,1502.3 270.7,1485.2 273.7,1470.9 276.8,1476.5 279.8,1474.8 282.8,1462.7 285.9,1483 288.9,1478 292,1488.6 295,1478.3 298,1478.2 301.1,1479.6 304.1,1477 307.2,1456.1 310.2,1472 313.3,1470.9 316.3,1451.5 319.3,1469.5 322.4,1482.5 325.4,1464.3 328.5,1474.6 331.5,1452.8 334.5,1475.8 337.6,1469.6 340.6,1477.4 343.7,1462.7 346.7,1471.2 349.7,1462.7 352.8,1464.6 355.8,1465.8 358.9,1452.3 361.9,1451.7 364.9,1458.2 368,1465.4 371,1466.2 374.1,1454.5 377.1,1436.8 380.1,1459.9 383.2,1462.3 386.2,1461.3 389.3,1464.3 392.3,1463 395.3,1456.4 398.4,1442.7 401.4,1454.2 404.5,1458.1 407.5,1466.9 410.5,1451.6 413.6,1453.3 416.6,1462.8 419.7,1461.4 422.7,1452.5 425.8,1443.6 428.8,1446.5 431.8,1449.6 434.9,1453.7 437.9,1448.1 441,1450.6 444,1432.6 447,1459.7 450.1,1453.5 453.1,1440 456.2,1452.6 459.2,1438.7 462.2,1450.8 465.3,1449.2 468.3,1453.5 471.4,1461.8 474.4,1458.4 477.4,1432.2 480.5,1445.1 483.5,1459.8 486.6,1472.5 489.6,1482.6 492.6,1484.9 495.7,1501.4 498.7,1507 501.8,1500.3 504.8,1512.9 507.8,1522.5 510.9,1515.1 513.9,1519.3 517,1511.4 520,1524 523,1528.4 526.1,1523.5 529.1,1508.9 532.2,1522.9 535.2,1522.1 538.3,1524.2 541.3,1522.8 544.3,1518.5 547.4,1515.8 550.4,1542 553.5,1518.5 556.5,1531 559.5,1534.8 562.6,1513.7 565.6,1536 568.7,1519.8 571.7,1529.2 574.7,1547 577.8,1535.8 580.8,1535.1 583.9,1543.6 586.9,1563 589.9,1548.1 593,1547.3 596,1555.3 599.1,1531.7 602.1,1549.3 605.1,1551 608.2,1550.7 611.2,1555.2 614.3,1555.6 617.3,1549 620.3,1547.7 623.4,1554.9 626.4,1552 629.5,1563 632.5,1547.5 635.5,1558.1 638.6,1550.3 641.6,1559.6 644.7,1556.6 647.7,1550.7 650.8,1562.6 653.8,1532.5 656.8,1552.8 659.9,1552.3 662.9,1557.1 666,1537.2 669,1538.2 672,1546.4 675.1,1559.4 678.1,1551.6 681.2,1541.7 684.2,1549.2 687.2,1552.3 690.3,1549.9 693.3,1544.1 696.4,1535.4 699.4,1539.2 702.4,1532.1 705.5,1507.7 708.5,1514.5 711.6,1536 714.6,1519.6 717.6,1494 720.7,1485.7 723.7,1471.1 726.8,1477.5 729.8,1472.6 732.8,1468.1 735.9,1463.7 738.9,1451.8 742,1455.6 745,1472.6 748,1464.7 751.1,1467.2 754.1,1453.6 757.2,1458.3 760.2,1453.8 763.3,1462.7 765.6,1441 766.3,1478.9 769.3,1460.5 772.4,1463.4 774.6,1433.4 775.4,1462.1 778.5,1478 781.5,1467.6 784.5,1475 787.6,1475 790.6,1466.5 793.7,1466.5 796.7,1476.7 799.7,1483.5 802.8,1489.7 805.8,1474.1 808.9,1460.2 811.9,1469.9 814.9,1485.1 818,1469.4 821,1454.6 824.1,1440 827.1,1443.9 830.1,1450.3 833.2,1451.6 836.2,1461.7 839.3,1456.6 839.9,1430.2 842.3,1455.5 845.3,1459 848.4,1451.9 851.4,1455.6 854.5,1449.4 857.5,1440.3 858,1437.8 860.5,1445.8 863.6,1448.3 866.6,1453.6 869.7,1464 872.7,1452.3 875.8,1446.7 878.8,1459.3 881.8,1440.6 884.9,1453.5 887.9,1447.6 891,1453.2 894,1460.8 897,1433.5 900.1,1460 903.1,1442.9 906.2,1455 907.5,1431.5 909.2,1448.1 912.2,1457.1 915.3,1453.9 918.3,1442.9 921.4,1434.5 924.4,1457.4 927.4,1450.4 930.5,1442.7 933.5,1455.6 936.6,1444.6 939.6,1466.4 942.6,1465.2 945.7,1476.3 948.7,1479.7 951.8,1493.2 954.8,1509.2 957.8,1497.2 960.9,1513.4 963.9,1498.6 967,1492.8 970,1500.8 973,1510.6 976.1,1496.7 979.1,1505.6 982.2,1517.6 985.2,1510.7 988.3,1496.6 991.3,1511.1 994.3,1508.1 997.4,1512.3 1000.4,1523.8 1003.5,1514.5 1006.5,1508.2 1009.5,1510.2 1012.6,1514.2 1015.6,1531.2 1018.7,1504.5 1021.7,1509.4 1024.7,1507.8 1027.8,1506.4 1030.8,1521.6 1033.9,1523.7 1036.9,1517 1039.9,1506.7 1043,1535.2 1046,1524.1 1049.1,1528.9" fill="none" stroke="#1f8f40" stroke-width="2.2" stroke-linejoin="round"/>
<g fill="#1f8f40"><circle cx="149.1" cy="1514.5" r="9.8"/><circle cx="152.1" cy="1519.3" r="9.8"/><circle cx="155.1" cy="1527.4" r="9.8"/><circle cx="158.2" cy="1536.4" r="9.8"/><circle cx="161.2" cy="1516" r="9.8"/><circle cx="164.3" cy="1520.8" r="9.8"/><circle cx="167.3" cy="1533.8" r="9.8"/><circle cx="170.3" cy="1520.5" r="9.8"/><circle cx="173.4" cy="1532.5" r="9.8"/><circle cx="176.4" cy="1520.2" r="9.8"/><circle cx="179.5" cy="1518.8" r="9.8"/><circle cx="182.5" cy="1517" r="9.8"/><circle cx="185.5" cy="1518.2" r="9.8"/><circle cx="188.6" cy="1518.6" r="9.8"/><circle cx="191.6" cy="1529.3" r="9.8"/><circle cx="194.7" cy="1523.1" r="9.8"/><circle cx="197.7" cy="1524.2" r="9.8"/><circle cx="199.2" cy="1482" r="9.8"/><circle cx="200.8" cy="1521.9" r="9.8"/><circle cx="203.8" cy="1517.7" r="9.8"/><circle cx="206.8" cy="1514.9" r="9.8"/><circle cx="209.9" cy="1506.5" r="9.8"/><circle cx="212.9" cy="1541.1" r="9.8"/><circle cx="216" cy="1516.7" r="9.8"/><circle cx="219" cy="1521.6" r="9.8"/><circle cx="222" cy="1501.3" r="9.8"/><circle cx="225.1" cy="1512.3" r="9.8"/><circle cx="228.1" cy="1533.5" r="9.8"/><circle cx="231.2" cy="1516.7" r="9.8"/><circle cx="234.2" cy="1524.2" r="9.8"/><circle cx="237.2" cy="1511.8" r="9.8"/><circle cx="240.3" cy="1528.6" r="9.8"/><circle cx="243.3" cy="1520.8" r="9.8"/><circle cx="246.4" cy="1521" r="9.8"/><circle cx="249.4" cy="1520.8" r="9.8"/><circle cx="252.4" cy="1524.8" r="9.8"/><circle cx="255.5" cy="1535.1" r="9.8"/><circle cx="258.5" cy="1516.2" r="9.8"/><circle cx="261.6" cy="1511.8" r="9.8"/><circle cx="264.6" cy="1519.3" r="9.8"/><circle cx="267.6" cy="1502.3" r="9.8"/><circle cx="270.7" cy="1485.2" r="9.8"/><circle cx="273.7" cy="1470.9" r="9.8"/><circle cx="276.8" cy="1476.5" r="9.8"/><circle cx="279.8" cy="1474.8" r="9.8"/><circle cx="282.8" cy="1462.7" r="9.8"/><circle cx="285.9" cy="1483" r="9.8"/><circle cx="288.9" cy="1478" r="9.8"/><circle cx="292" cy="1488.6" r="9.8"/><circle cx="295" cy="1478.3" r="9.8"/><circle cx="298" cy="1478.2" r="9.8"/><circle cx="301.1" cy="1479.6" r="9.8"/><circle cx="304.1" cy="1477" r="9.8"/><circle cx="307.2" cy="1456.1" r="9.8"/><circle cx="310.2" cy="1472" r="9.8"/><circle cx="313.3" cy="1470.9" r="9.8"/><circle cx="316.3" cy="1451.5" r="9.8"/><circle cx="319.3" cy="1469.5" r="9.8"/><circle cx="322.4" cy="1482.5" r="9.8"/><circle cx="325.4" cy="1464.3" r="9.8"/><circle cx="328.5" cy="1474.6" r="9.8"/><circle cx="331.5" cy="1452.8" r="9.8"/><circle cx="334.5" cy="1475.8" r="9.8"/><circle cx="337.6" cy="1469.6" r="9.8"/><circle cx="340.6" cy="1477.4" r="9.8"/><circle cx="343.7" cy="1462.7" r="9.8"/><circle cx="346.7" cy="1471.2" r="9.8"/><circle cx="349.7" cy="1462.7" r="9.8"/><circle cx="352.8" cy="1464.6" r="9.8"/><circle cx="355.8" cy="1465.8" r="9.8"/><circle cx="358.9" cy="1452.3" r="9.8"/><circle cx="361.9" cy="1451.7" r="9.8"/><circle cx="364.9" cy="1458.2" r="9.8"/><circle cx="368" cy="1465.4" r="9.8"/><circle cx="371" cy="1466.2" r="9.8"/><circle cx="374.1" cy="1454.5" r="9.8"/><circle cx="377.1" cy="1436.8" r="9.8"/><circle cx="380.1" cy="1459.9" r="9.8"/><circle cx="383.2" cy="1462.3" r="9.8"/><circle cx="386.2" cy="1461.3" r="9.8"/><circle cx="389.3" cy="1464.3" r="9.8"/><circle cx="392.3" cy="1463" r="9.8"/><circle cx="395.3" cy="1456.4" r="9.8"/><circle cx="398.4" cy="1442.7" r="9.8"/><circle cx="401.4" cy="1454.2" r="9.8"/><circle cx="404.5" cy="1458.1" r="9.8"/><circle cx="407.5" cy="1466.9" r="9.8"/><circle cx="410.5" cy="1451.6" r="9.8"/><circle cx="413.6" cy="1453.3" r="9.8"/><circle cx="416.6" cy="1462.8" r="9.8"/><circle cx="419.7" cy="1461.4" r="9.8"/><circle cx="422.7" cy="1452.5" r="9.8"/><circle cx="425.8" cy="1443.6" r="9.8"/><circle cx="428.8" cy="1446.5" r="9.8"/><circle cx="431.8" cy="1449.6" r="9.8"/><circle cx="434.9" cy="1453.7" r="9.8"/><circle cx="437.9" cy="1448.1" r="9.8"/><circle cx="441" cy="1450.6" r="9.8"/><circle cx="444" cy="1432.6" r="9.8"/><circle cx="447" cy="1459.7" r="9.8"/><circle cx="450.1" cy="1453.5" r="9.8"/><circle cx="453.1" cy="1440" r="9.8"/><circle cx="456.2" cy="1452.6" r="9.8"/><circle cx="459.2" cy="1438.7" r="9.8"/><circle cx="462.2" cy="1450.8" r="9.8"/><circle cx="465.3" cy="1449.2" r="9.8"/><circle cx="468.3" cy="1453.5" r="9.8"/><circle cx="471.4" cy="1461.8" r="9.8"/><circle cx="474.4" cy="1458.4" r="9.8"/><circle cx="477.4" cy="1432.2" r="9.8"/><circle cx="480.5" cy="1445.1" r="9.8"/><circle cx="483.5" cy="1459.8" r="9.8"/><circle cx="486.6" cy="1472.5" r="9.8"/><circle cx="489.6" cy="1482.6" r="9.8"/><circle cx="492.6" cy="1484.9" r="9.8"/><circle cx="495.7" cy="1501.4" r="9.8"/><circle cx="498.7" cy="1507" r="9.8"/><circle cx="501.8" cy="1500.3" r="9.8"/><circle cx="504.8" cy="1512.9" r="9.8"/><circle cx="507.8" cy="1522.5" r="9.8"/><circle cx="510.9" cy="1515.1" r="9.8"/><circle cx="513.9" cy="1519.3" r="9.8"/><circle cx="517" cy="1511.4" r="9.8"/><circle cx="520" cy="1524" r="9.8"/><circle cx="523" cy="1528.4" r="9.8"/><circle cx="526.1" cy="1523.5" r="9.8"/><circle cx="529.1" cy="1508.9" r="9.8"/><circle cx="532.2" cy="1522.9" r="9.8"/><circle cx="535.2" cy="1522.1" r="9.8"/><circle cx="538.3" cy="1524.2" r="9.8"/><circle cx="541.3" cy="1522.8" r="9.8"/><circle cx="544.3" cy="1518.5" r="9.8"/><circle cx="547.4" cy="1515.8" r="9.8"/><circle cx="550.4" cy="1542" r="9.8"/><circle cx="553.5" cy="1518.5" r="9.8"/><circle cx="556.5" cy="1531" r="9.8"/><circle cx="559.5" cy="1534.8" r="9.8"/><circle cx="562.6" cy="1513.7" r="9.8"/><circle cx="565.6" cy="1536" r="9.8"/><circle cx="568.7" cy="1519.8" r="9.8"/><circle cx="571.7" cy="1529.2" r="9.8"/><circle cx="574.7" cy="1547" r="9.8"/><circle cx="577.8" cy="1535.8" r="9.8"/><circle cx="580.8" cy="1535.1" r="9.8"/><circle cx="583.9" cy="1543.6" r="9.8"/><circle cx="586.9" cy="1563" r="9.8"/><circle cx="589.9" cy="1548.1" r="9.8"/><circle cx="593" cy="1547.3" r="9.8"/><circle cx="596" cy="1555.3" r="9.8"/><circle cx="599.1" cy="1531.7" r="9.8"/><circle cx="602.1" cy="1549.3" r="9.8"/><circle cx="605.1" cy="1551" r="9.8"/><circle cx="608.2" cy="1550.7" r="9.8"/><circle cx="611.2" cy="1555.2" r="9.8"/><circle cx="614.3" cy="1555.6" r="9.8"/><circle cx="617.3" cy="1549" r="9.8"/><circle cx="620.3" cy="1547.7" r="9.8"/><circle cx="623.4" cy="1554.9" r="9.8"/><circle cx="626.4" cy="1552" r="9.8"/><circle cx="629.5" cy="1563" r="9.8"/><circle cx="632.5" cy="1547.5" r="9.8"/><circle cx="635.5" cy="1558.1" r="9.8"/><circle cx="638.6" cy="1550.3" r="9.8"/><circle cx="641.6" cy="1559.6" r="9.8"/><circle cx="644.7" cy="1556.6" r="9.8"/><circle cx="647.7" cy="1550.7" r="9.8"/><circle cx="650.8" cy="1562.6" r="9.8"/><circle cx="653.8" cy="1532.5" r="9.8"/><circle cx="656.8" cy="1552.8" r="9.8"/><circle cx="659.9" cy="1552.3" r="9.8"/><circle cx="662.9" cy="1557.1" r="9.8"/><circle cx="666" cy="1537.2" r="9.8"/><circle cx="669" cy="1538.2" r="9.8"/><circle cx="672" cy="1546.4" r="9.8"/><circle cx="675.1" cy="1559.4" r="9.8"/><circle cx="678.1" cy="1551.6" r="9.8"/><circle cx="681.2" cy="1541.7" r="9.8"/><circle cx="684.2" cy="1549.2" r="9.8"/><circle cx="687.2" cy="1552.3" r="9.8"/><circle cx="690.3" cy="1549.9" r="9.8"/><circle cx="693.3" cy="1544.1" r="9.8"/><circle cx="696.4" cy="1535.4" r="9.8"/><circle cx="699.4" cy="1539.2" r="9.8"/><circle cx="702.4" cy="1532.1" r="9.8"/><circle cx="705.5" cy="1507.7" r="9.8"/><circle cx="708.5" cy="1514.5" r="9.8"/><circle cx="711.6" cy="1536" r="9.8"/><circle cx="714.6" cy="1519.6" r="9.8"/><circle cx="717.6" cy="1494" r="9.8"/><circle cx="720.7" cy="1485.7" r="9.8"/><circle cx="723.7" cy="1471.1" r="9.8"/><circle cx="726.8" cy="1477.5" r="9.8"/><circle cx="729.8" cy="1472.6" r="9.8"/><circle cx="732.8" cy="1468.1" r="9.8"/><circle cx="735.9" cy="1463.7" r="9.8"/><circle cx="738.9" cy="1451.8" r="9.8"/><circle cx="742" cy="1455.6" r="9.8"/><circle cx="745" cy="1472.6" r="9.8"/><circle cx="748" cy="1464.7" r="9.8"/><circle cx="751.1" cy="1467.2" r="9.8"/><circle cx="754.1" cy="1453.6" r="9.8"/><circle cx="757.2" cy="1458.3" r="9.8"/><circle cx="760.2" cy="1453.8" r="9.8"/><circle cx="763.3" cy="1462.7" r="9.8"/><circle cx="765.6" cy="1441" r="9.8"/><circle cx="766.3" cy="1478.9" r="9.8"/><circle cx="769.3" cy="1460.5" r="9.8"/><circle cx="772.4" cy="1463.4" r="9.8"/><circle cx="774.6" cy="1433.4" r="9.8"/><circle cx="775.4" cy="1462.1" r="9.8"/><circle cx="778.5" cy="1478" r="9.8"/><circle cx="781.5" cy="1467.6" r="9.8"/><circle cx="784.5" cy="1475" r="9.8"/><circle cx="787.6" cy="1475" r="9.8"/><circle cx="790.6" cy="1466.5" r="9.8"/><circle cx="793.7" cy="1466.5" r="9.8"/><circle cx="796.7" cy="1476.7" r="9.8"/><circle cx="799.7" cy="1483.5" r="9.8"/><circle cx="802.8" cy="1489.7" r="9.8"/><circle cx="805.8" cy="1474.1" r="9.8"/><circle cx="808.9" cy="1460.2" r="9.8"/><circle cx="811.9" cy="1469.9" r="9.8"/><circle cx="814.9" cy="1485.1" r="9.8"/><circle cx="818" cy="1469.4" r="9.8"/><circle cx="821" cy="1454.6" r="9.8"/><circle cx="824.1" cy="1440" r="9.8"/><circle cx="827.1" cy="1443.9" r="9.8"/><circle cx="830.1" cy="1450.3" r="9.8"/><circle cx="833.2" cy="1451.6" r="9.8"/><circle cx="836.2" cy="1461.7" r="9.8"/><circle cx="839.3" cy="1456.6" r="9.8"/><circle cx="839.9" cy="1430.2" r="9.8"/><circle cx="842.3" cy="1455.5" r="9.8"/><circle cx="845.3" cy="1459" r="9.8"/><circle cx="848.4" cy="1451.9" r="9.8"/><circle cx="851.4" cy="1455.6" r="9.8"/><circle cx="854.5" cy="1449.4" r="9.8"/><circle cx="857.5" cy="1440.3" r="9.8"/><circle cx="858" cy="1437.8" r="9.8"/><circle cx="860.5" cy="1445.8" r="9.8"/><circle cx="863.6" cy="1448.3" r="9.8"/><circle cx="866.6" cy="1453.6" r="9.8"/><circle cx="869.7" cy="1464" r="9.8"/><circle cx="872.7" cy="1452.3" r="9.8"/><circle cx="875.8" cy="1446.7" r="9.8"/><circle cx="878.8" cy="1459.3" r="9.8"/><circle cx="881.8" cy="1440.6" r="9.8"/><circle cx="884.9" cy="1453.5" r="9.8"/><circle cx="887.9" cy="1447.6" r="9.8"/><circle cx="891" cy="1453.2" r="9.8"/><circle cx="894" cy="1460.8" r="9.8"/><circle cx="897" cy="1433.5" r="9.8"/><circle cx="900.1" cy="1460" r="9.8"/><circle cx="903.1" cy="1442.9" r="9.8"/><circle cx="906.2" cy="1455" r="9.8"/><circle cx="907.5" cy="1431.5" r="9.8"/><circle cx="909.2" cy="1448.1" r="9.8"/><circle cx="912.2" cy="1457.1" r="9.8"/><circle cx="915.3" cy="1453.9" r="9.8"/><circle cx="918.3" cy="1442.9" r="9.8"/><circle cx="921.4" cy="1434.5" r="9.8"/><circle cx="924.4" cy="1457.4" r="9.8"/><circle cx="927.4" cy="1450.4" r="9.8"/><circle cx="930.5" cy="1442.7" r="9.8"/><circle cx="933.5" cy="1455.6" r="9.8"/><circle cx="936.6" cy="1444.6" r="9.8"/><circle cx="939.6" cy="1466.4" r="9.8"/><circle cx="942.6" cy="1465.2" r="9.8"/><circle cx="945.7" cy="1476.3" r="9.8"/><circle cx="948.7" cy="1479.7" r="9.8"/><circle cx="951.8" cy="1493.2" r="9.8"/><circle cx="954.8" cy="1509.2" r="9.8"/><circle cx="957.8" cy="1497.2" r="9.8"/><circle cx="960.9" cy="1513.4" r="9.8"/><circle cx="963.9" cy="1498.6" r="9.8"/><circle cx="967" cy="1492.8" r="9.8"/><circle cx="970" cy="1500.8" r="9.8"/><circle cx="973" cy="1510.6" r="9.8"/><circle cx="976.1" cy="1496.7" r="9.8"/><circle cx="979.1" cy="1505.6" r="9.8"/><circle cx="982.2" cy="1517.6" r="9.8"/><circle cx="985.2" cy="1510.7" r="9.8"/><circle cx="988.3" cy="1496.6" r="9.8"/><circle cx="991.3" cy="1511.1" r="9.8"/><circle cx="994.3" cy="1508.1" r="9.8"/><circle cx="997.4" cy="1512.3" r="9.8"/><circle cx="1000.4" cy="1523.8" r="9.8"/><circle cx="1003.5" cy="1514.5" r="9.8"/><circle cx="1006.5" cy="1508.2" r="9.8"/><circle cx="1009.5" cy="1510.2" r="9.8"/><circle cx="1012.6" cy="1514.2" r="9.8"/><circle cx="1015.6" cy="1531.2" r="9.8"/><circle cx="1018.7" cy="1504.5" r="9.8"/><circle cx="1021.7" cy="1509.4" r="9.8"/><circle cx="1024.7" cy="1507.8" r="9.8"/><circle cx="1027.8" cy="1506.4" r="9.8"/><circle cx="1030.8" cy="1521.6" r="9.8"/><circle cx="1033.9" cy="1523.7" r="9.8"/><circle cx="1036.9" cy="1517" r="9.8"/><circle cx="1039.9" cy="1506.7" r="9.8"/><circle cx="1043" cy="1535.2" r="9.8"/><circle cx="1046" cy="1524.1" r="9.8"/><circle cx="1049.1" cy="1528.9" r="9.8"/></g>
<polyline points="149.1,1535.8 152.1,1542.5 155.1,1545.6 158.2,1564.2 161.2,1554.4 164.3,1553.4 167.3,1552.6 170.3,1542.6 173.4,1550.7 176.4,1540.7 179.5,1546.8 182.5,1550.4 185.5,1546.4 188.6,1543.5 191.6,1539.6 194.7,1551.4 197.7,1549.1 200.8,1559 203.8,1532.7 206.8,1534 207.1,1518.7 209.9,1548.3 212.9,1550.9 216,1557.5 219,1545 222,1544.6 225.1,1527 228.1,1544.1 231.2,1553 234.2,1564.2 237.2,1533.5 240.3,1544.2 243.3,1560.1 246.4,1544.2 249.4,1559.9 252.4,1514.8 255.5,1535.6 258.5,1540.4 261.6,1546.9 264.6,1545.3 267.6,1431.2 270.7,1364.8 273.7,1343.1 276.8,1366 279.8,1340.1 282.8,1300.1 285.9,1288.6 288.9,1329 292,1330.3 295,1288 298,1288 301.1,1316.6 304.1,1311.6 307.2,1311.2 310.2,1318.6 313.3,1310.1 316.3,1279.2 319.3,1287.6 322.4,1265.6 325.4,1299 328.5,1299.4 331.5,1312.3 334.5,1298.3 337.6,1316.7 340.6,1323.6 343.7,1284.1 346.7,1271.9 349.7,1281 352.8,1272.7 355.8,1289.4 358.9,1304.3 360.2,1227.3 361.9,1291.2 364.9,1288.6 368,1288.3 371,1296.7 374.1,1293 377.1,1269.3 380.1,1266.4 383.2,1275.9 386.2,1245.5 389.3,1264.9 392.3,1258.1 395.3,1247.7 398.4,1279.5 401.4,1297.3 404.5,1253.9 407.5,1276.3 410.5,1244.3 413.6,1259.3 416.6,1248.4 419.7,1254 422.7,1305.7 425.8,1268.3 428.8,1297.1 431.8,1301 434.9,1295.6 437.9,1276.2 441,1273.9 444,1271.6 447,1313.4 450.1,1296.1 453.1,1323.9 456.2,1287.6 459.2,1276.2 462.2,1297.3 465.3,1281 468.3,1280.8 471.4,1268.2 474.4,1296.7 477.4,1296.5 480.5,1295 483.5,1248.1 486.6,1250.8 489.6,1336.1 490.8,1367.6 492.6,1410 495.7,1445.6 498.7,1456.8 501.8,1463.6 504.8,1470.4 507.8,1490.9 510.9,1493.8 513.9,1478.1 517,1489.8 520,1495 523,1498.3 526.1,1495.9 529.1,1493.4 532.2,1504 535.2,1495.9 538.3,1495.9 541.3,1506.4 544.3,1507.2 547.4,1509.8 550.4,1510.9 553.5,1491.6 556.5,1524.9 559.5,1504.2 562.6,1508.1 565.6,1508.7 568.7,1501.9 571.7,1491.9 574.7,1503 577.8,1505.6 580.8,1510.8 583.9,1506.4 586.9,1496.3 589.9,1510 593,1518 596,1519.7 599.1,1518.6 602.1,1523.1 605.1,1499.7 608.2,1508.9 611.2,1516.6 614.3,1501.2 617.3,1524.3 620.3,1511.7 623.4,1512 626.4,1535.8 629.5,1536.1 632.5,1529.9 635.5,1511.4 638.6,1507.7 641.6,1533.3 644.7,1510.4 647.7,1525.1 650.8,1525.3 653.8,1527 656.8,1524.9 659.9,1540.1 662.9,1532 666,1534.5 669,1517.2 672,1501.2 675.1,1494.8 678.1,1526 681.2,1540.2 684.2,1527 687.2,1532.5 690.3,1502.6 693.3,1515.6 696.4,1527.6 699.4,1509.5 702.4,1512.3 705.5,1533 708.5,1520.7 711.6,1516.5 714.6,1454 716.1,1408.7 717.6,1393.9 720.7,1365.3 723.7,1338 725.1,1337.9 726.8,1321.8 729.8,1319.7 732.8,1265.3 735.9,1280.9 738.9,1277.5 742,1307.4 745,1282.7 748,1265.6 751.1,1297.5 754.1,1258.3 757.2,1280.4 760.2,1266.5 763.3,1273.5 766.3,1266.6 769.3,1249.6 772.4,1273.5 775.4,1241 778.5,1276.7 781.5,1277.1 784.5,1249 787.6,1274.9 790.6,1261.8 793.7,1239.5 796.7,1232.6 799.7,1277.6 802.8,1240 802.8,1207.8 805.8,1217.7 808.9,1228 811.9,1250.1 814.9,1255.2 818,1249.8 821,1262.8 824.1,1248.2 827.1,1246.4 830.1,1245.2 833.2,1223.6 836.2,1246 837.7,1198.3 839.3,1267.1 841.1,1205.2 842.3,1229.1 845.3,1264.4 848.4,1256.2 851.4,1253 854.5,1258 857.5,1270.1 860.5,1258.6 863.6,1220.3 866.6,1264.5 869.7,1257.2 872.7,1237.5 875.8,1243.6 878.8,1243.4 881.8,1242 884.9,1286.9 887.9,1269.6 891,1254 894,1248.3 897,1235.9 900.1,1249.1 903.1,1260.4 904.1,1288.6 906.2,1256.2 909.2,1260.3 912.2,1253.2 915.3,1246.5 918.3,1262.7 921.4,1270.3 924.4,1271.1 927.4,1238.3 930.5,1232.1 933.5,1233.5 936.6,1232.3 939,1362.6 939.6,1370.1 942.4,1407.5 942.6,1408.9 945.7,1428.7 948.7,1447.2 951.8,1460.8 954.8,1477.7 957.8,1465.2 960.9,1480.7 963.9,1478.2 967,1475.3 970,1467.9 973,1490.3 976.1,1492.2 979.1,1474.8 982.2,1494.6 985.2,1479.2 987.5,1511.1 988.3,1489.9 991.3,1485.6 994.3,1503.3 997.4,1478 1000.4,1490.7 1003.5,1495.1 1006.5,1465.4 1009.5,1479.5 1012.6,1451.6 1015.6,1483.3 1018.7,1491.3 1021.7,1487.1 1024.7,1472.3 1027.8,1489.2 1030.8,1484.7 1033.9,1484.4 1036.9,1499.2 1039.9,1489.1 1043,1495.8 1046,1503.7 1049.1,1482.7" fill="none" stroke="#f5821f" stroke-width="2.2" stroke-linejoin="round"/>
<g fill="#f5821f"><circle cx="149.1" cy="1535.8" r="9.8"/><circle cx="152.1" cy="1542.5" r="9.8"/><circle cx="155.1" cy="1545.6" r="9.8"/><circle cx="158.2" cy="1564.2" r="9.8"/><circle cx="161.2" cy="1554.4" r="9.8"/><circle cx="164.3" cy="1553.4" r="9.8"/><circle cx="167.3" cy="1552.6" r="9.8"/><circle cx="170.3" cy="1542.6" r="9.8"/><circle cx="173.4" cy="1550.7" r="9.8"/><circle cx="176.4" cy="1540.7" r="9.8"/><circle cx="179.5" cy="1546.8" r="9.8"/><circle cx="182.5" cy="1550.4" r="9.8"/><circle cx="185.5" cy="1546.4" r="9.8"/><circle cx="188.6" cy="1543.5" r="9.8"/><circle cx="191.6" cy="1539.6" r="9.8"/><circle cx="194.7" cy="1551.4" r="9.8"/><circle cx="197.7" cy="1549.1" r="9.8"/><circle cx="200.8" cy="1559" r="9.8"/><circle cx="203.8" cy="1532.7" r="9.8"/><circle cx="206.8" cy="1534" r="9.8"/><circle cx="207.1" cy="1518.7" r="9.8"/><circle cx="209.9" cy="1548.3" r="9.8"/><circle cx="212.9" cy="1550.9" r="9.8"/><circle cx="216" cy="1557.5" r="9.8"/><circle cx="219" cy="1545" r="9.8"/><circle cx="222" cy="1544.6" r="9.8"/><circle cx="225.1" cy="1527" r="9.8"/><circle cx="228.1" cy="1544.1" r="9.8"/><circle cx="231.2" cy="1553" r="9.8"/><circle cx="234.2" cy="1564.2" r="9.8"/><circle cx="237.2" cy="1533.5" r="9.8"/><circle cx="240.3" cy="1544.2" r="9.8"/><circle cx="243.3" cy="1560.1" r="9.8"/><circle cx="246.4" cy="1544.2" r="9.8"/><circle cx="249.4" cy="1559.9" r="9.8"/><circle cx="252.4" cy="1514.8" r="9.8"/><circle cx="255.5" cy="1535.6" r="9.8"/><circle cx="258.5" cy="1540.4" r="9.8"/><circle cx="261.6" cy="1546.9" r="9.8"/><circle cx="264.6" cy="1545.3" r="9.8"/><circle cx="267.6" cy="1431.2" r="9.8"/><circle cx="270.7" cy="1364.8" r="9.8"/><circle cx="273.7" cy="1343.1" r="9.8"/><circle cx="276.8" cy="1366" r="9.8"/><circle cx="279.8" cy="1340.1" r="9.8"/><circle cx="282.8" cy="1300.1" r="9.8"/><circle cx="285.9" cy="1288.6" r="9.8"/><circle cx="288.9" cy="1329" r="9.8"/><circle cx="292" cy="1330.3" r="9.8"/><circle cx="295" cy="1288" r="9.8"/><circle cx="298" cy="1288" r="9.8"/><circle cx="301.1" cy="1316.6" r="9.8"/><circle cx="304.1" cy="1311.6" r="9.8"/><circle cx="307.2" cy="1311.2" r="9.8"/><circle cx="310.2" cy="1318.6" r="9.8"/><circle cx="313.3" cy="1310.1" r="9.8"/><circle cx="316.3" cy="1279.2" r="9.8"/><circle cx="319.3" cy="1287.6" r="9.8"/><circle cx="322.4" cy="1265.6" r="9.8"/><circle cx="325.4" cy="1299" r="9.8"/><circle cx="328.5" cy="1299.4" r="9.8"/><circle cx="331.5" cy="1312.3" r="9.8"/><circle cx="334.5" cy="1298.3" r="9.8"/><circle cx="337.6" cy="1316.7" r="9.8"/><circle cx="340.6" cy="1323.6" r="9.8"/><circle cx="343.7" cy="1284.1" r="9.8"/><circle cx="346.7" cy="1271.9" r="9.8"/><circle cx="349.7" cy="1281" r="9.8"/><circle cx="352.8" cy="1272.7" r="9.8"/><circle cx="355.8" cy="1289.4" r="9.8"/><circle cx="358.9" cy="1304.3" r="9.8"/><circle cx="360.2" cy="1227.3" r="9.8"/><circle cx="361.9" cy="1291.2" r="9.8"/><circle cx="364.9" cy="1288.6" r="9.8"/><circle cx="368" cy="1288.3" r="9.8"/><circle cx="371" cy="1296.7" r="9.8"/><circle cx="374.1" cy="1293" r="9.8"/><circle cx="377.1" cy="1269.3" r="9.8"/><circle cx="380.1" cy="1266.4" r="9.8"/><circle cx="383.2" cy="1275.9" r="9.8"/><circle cx="386.2" cy="1245.5" r="9.8"/><circle cx="389.3" cy="1264.9" r="9.8"/><circle cx="392.3" cy="1258.1" r="9.8"/><circle cx="395.3" cy="1247.7" r="9.8"/><circle cx="398.4" cy="1279.5" r="9.8"/><circle cx="401.4" cy="1297.3" r="9.8"/><circle cx="404.5" cy="1253.9" r="9.8"/><circle cx="407.5" cy="1276.3" r="9.8"/><circle cx="410.5" cy="1244.3" r="9.8"/><circle cx="413.6" cy="1259.3" r="9.8"/><circle cx="416.6" cy="1248.4" r="9.8"/><circle cx="419.7" cy="1254" r="9.8"/><circle cx="422.7" cy="1305.7" r="9.8"/><circle cx="425.8" cy="1268.3" r="9.8"/><circle cx="428.8" cy="1297.1" r="9.8"/><circle cx="431.8" cy="1301" r="9.8"/><circle cx="434.9" cy="1295.6" r="9.8"/><circle cx="437.9" cy="1276.2" r="9.8"/><circle cx="441" cy="1273.9" r="9.8"/><circle cx="444" cy="1271.6" r="9.8"/><circle cx="447" cy="1313.4" r="9.8"/><circle cx="450.1" cy="1296.1" r="9.8"/><circle cx="453.1" cy="1323.9" r="9.8"/><circle cx="456.2" cy="1287.6" r="9.8"/><circle cx="459.2" cy="1276.2" r="9.8"/><circle cx="462.2" cy="1297.3" r="9.8"/><circle cx="465.3" cy="1281" r="9.8"/><circle cx="468.3" cy="1280.8" r="9.8"/><circle cx="471.4" cy="1268.2" r="9.8"/><circle cx="474.4" cy="1296.7" r="9.8"/><circle cx="477.4" cy="1296.5" r="9.8"/><circle cx="480.5" cy="1295" r="9.8"/><circle cx="483.5" cy="1248.1" r="9.8"/><circle cx="486.6" cy="1250.8" r="9.8"/><circle cx="489.6" cy="1336.1" r="9.8"/><circle cx="490.8" cy="1367.6" r="9.8"/><circle cx="492.6" cy="1410" r="9.8"/><circle cx="495.7" cy="1445.6" r="9.8"/><circle cx="498.7" cy="1456.8" r="9.8"/><circle cx="501.8" cy="1463.6" r="9.8"/><circle cx="504.8" cy="1470.4" r="9.8"/><circle cx="507.8" cy="1490.9" r="9.8"/><circle cx="510.9" cy="1493.8" r="9.8"/><circle cx="513.9" cy="1478.1" r="9.8"/><circle cx="517" cy="1489.8" r="9.8"/><circle cx="520" cy="1495" r="9.8"/><circle cx="523" cy="1498.3" r="9.8"/><circle cx="526.1" cy="1495.9" r="9.8"/><circle cx="529.1" cy="1493.4" r="9.8"/><circle cx="532.2" cy="1504" r="9.8"/><circle cx="535.2" cy="1495.9" r="9.8"/><circle cx="538.3" cy="1495.9" r="9.8"/><circle cx="541.3" cy="1506.4" r="9.8"/><circle cx="544.3" cy="1507.2" r="9.8"/><circle cx="547.4" cy="1509.8" r="9.8"/><circle cx="550.4" cy="1510.9" r="9.8"/><circle cx="553.5" cy="1491.6" r="9.8"/><circle cx="556.5" cy="1524.9" r="9.8"/><circle cx="559.5" cy="1504.2" r="9.8"/><circle cx="562.6" cy="1508.1" r="9.8"/><circle cx="565.6" cy="1508.7" r="9.8"/><circle cx="568.7" cy="1501.9" r="9.8"/><circle cx="571.7" cy="1491.9" r="9.8"/><circle cx="574.7" cy="1503" r="9.8"/><circle cx="577.8" cy="1505.6" r="9.8"/><circle cx="580.8" cy="1510.8" r="9.8"/><circle cx="583.9" cy="1506.4" r="9.8"/><circle cx="586.9" cy="1496.3" r="9.8"/><circle cx="589.9" cy="1510" r="9.8"/><circle cx="593" cy="1518" r="9.8"/><circle cx="596" cy="1519.7" r="9.8"/><circle cx="599.1" cy="1518.6" r="9.8"/><circle cx="602.1" cy="1523.1" r="9.8"/><circle cx="605.1" cy="1499.7" r="9.8"/><circle cx="608.2" cy="1508.9" r="9.8"/><circle cx="611.2" cy="1516.6" r="9.8"/><circle cx="614.3" cy="1501.2" r="9.8"/><circle cx="617.3" cy="1524.3" r="9.8"/><circle cx="620.3" cy="1511.7" r="9.8"/><circle cx="623.4" cy="1512" r="9.8"/><circle cx="626.4" cy="1535.8" r="9.8"/><circle cx="629.5" cy="1536.1" r="9.8"/><circle cx="632.5" cy="1529.9" r="9.8"/><circle cx="635.5" cy="1511.4" r="9.8"/><circle cx="638.6" cy="1507.7" r="9.8"/><circle cx="641.6" cy="1533.3" r="9.8"/><circle cx="644.7" cy="1510.4" r="9.8"/><circle cx="647.7" cy="1525.1" r="9.8"/><circle cx="650.8" cy="1525.3" r="9.8"/><circle cx="653.8" cy="1527" r="9.8"/><circle cx="656.8" cy="1524.9" r="9.8"/><circle cx="659.9" cy="1540.1" r="9.8"/><circle cx="662.9" cy="1532" r="9.8"/><circle cx="666" cy="1534.5" r="9.8"/><circle cx="669" cy="1517.2" r="9.8"/><circle cx="672" cy="1501.2" r="9.8"/><circle cx="675.1" cy="1494.8" r="9.8"/><circle cx="678.1" cy="1526" r="9.8"/><circle cx="681.2" cy="1540.2" r="9.8"/><circle cx="684.2" cy="1527" r="9.8"/><circle cx="687.2" cy="1532.5" r="9.8"/><circle cx="690.3" cy="1502.6" r="9.8"/><circle cx="693.3" cy="1515.6" r="9.8"/><circle cx="696.4" cy="1527.6" r="9.8"/><circle cx="699.4" cy="1509.5" r="9.8"/><circle cx="702.4" cy="1512.3" r="9.8"/><circle cx="705.5" cy="1533" r="9.8"/><circle cx="708.5" cy="1520.7" r="9.8"/><circle cx="711.6" cy="1516.5" r="9.8"/><circle cx="714.6" cy="1454" r="9.8"/><circle cx="716.1" cy="1408.7" r="9.8"/><circle cx="717.6" cy="1393.9" r="9.8"/><circle cx="720.7" cy="1365.3" r="9.8"/><circle cx="723.7" cy="1338" r="9.8"/><circle cx="725.1" cy="1337.9" r="9.8"/><circle cx="726.8" cy="1321.8" r="9.8"/><circle cx="729.8" cy="1319.7" r="9.8"/><circle cx="732.8" cy="1265.3" r="9.8"/><circle cx="735.9" cy="1280.9" r="9.8"/><circle cx="738.9" cy="1277.5" r="9.8"/><circle cx="742" cy="1307.4" r="9.8"/><circle cx="745" cy="1282.7" r="9.8"/><circle cx="748" cy="1265.6" r="9.8"/><circle cx="751.1" cy="1297.5" r="9.8"/><circle cx="754.1" cy="1258.3" r="9.8"/><circle cx="757.2" cy="1280.4" r="9.8"/><circle cx="760.2" cy="1266.5" r="9.8"/><circle cx="763.3" cy="1273.5" r="9.8"/><circle cx="766.3" cy="1266.6" r="9.8"/><circle cx="769.3" cy="1249.6" r="9.8"/><circle cx="772.4" cy="1273.5" r="9.8"/><circle cx="775.4" cy="1241" r="9.8"/><circle cx="778.5" cy="1276.7" r="9.8"/><circle cx="781.5" cy="1277.1" r="9.8"/><circle cx="784.5" cy="1249" r="9.8"/><circle cx="787.6" cy="1274.9" r="9.8"/><circle cx="790.6" cy="1261.8" r="9.8"/><circle cx="793.7" cy="1239.5" r="9.8"/><circle cx="796.7" cy="1232.6" r="9.8"/><circle cx="799.7" cy="1277.6" r="9.8"/><circle cx="802.8" cy="1240" r="9.8"/><circle cx="802.8" cy="1207.8" r="9.8"/><circle cx="805.8" cy="1217.7" r="9.8"/><circle cx="808.9" cy="1228" r="9.8"/><circle cx="811.9" cy="1250.1" r="9.8"/><circle cx="814.9" cy="1255.2" r="9.8"/><circle cx="818" cy="1249.8" r="9.8"/><circle cx="821" cy="1262.8" r="9.8"/><circle cx="824.1" cy="1248.2" r="9.8"/><circle cx="827.1" cy="1246.4" r="9.8"/><circle cx="830.1" cy="1245.2" r="9.8"/><circle cx="833.2" cy="1223.6" r="9.8"/><circle cx="836.2" cy="1246" r="9.8"/><circle cx="837.7" cy="1198.3" r="9.8"/><circle cx="839.3" cy="1267.1" r="9.8"/><circle cx="841.1" cy="1205.2" r="9.8"/><circle cx="842.3" cy="1229.1" r="9.8"/><circle cx="845.3" cy="1264.4" r="9.8"/><circle cx="848.4" cy="1256.2" r="9.8"/><circle cx="851.4" cy="1253" r="9.8"/><circle cx="854.5" cy="1258" r="9.8"/><circle cx="857.5" cy="1270.1" r="9.8"/><circle cx="860.5" cy="1258.6" r="9.8"/><circle cx="863.6" cy="1220.3" r="9.8"/><circle cx="866.6" cy="1264.5" r="9.8"/><circle cx="869.7" cy="1257.2" r="9.8"/><circle cx="872.7" cy="1237.5" r="9.8"/><circle cx="875.8" cy="1243.6" r="9.8"/><circle cx="878.8" cy="1243.4" r="9.8"/><circle cx="881.8" cy="1242" r="9.8"/><circle cx="884.9" cy="1286.9" r="9.8"/><circle cx="887.9" cy="1269.6" r="9.8"/><circle cx="891" cy="1254" r="9.8"/><circle cx="894" cy="1248.3" r="9.8"/><circle cx="897" cy="1235.9" r="9.8"/><circle cx="900.1" cy="1249.1" r="9.8"/><circle cx="903.1" cy="1260.4" r="9.8"/><circle cx="904.1" cy="1288.6" r="9.8"/><circle cx="906.2" cy="1256.2" r="9.8"/><circle cx="909.2" cy="1260.3" r="9.8"/><circle cx="912.2" cy="1253.2" r="9.8"/><circle cx="915.3" cy="1246.5" r="9.8"/><circle cx="918.3" cy="1262.7" r="9.8"/><circle cx="921.4" cy="1270.3" r="9.8"/><circle cx="924.4" cy="1271.1" r="9.8"/><circle cx="927.4" cy="1238.3" r="9.8"/><circle cx="930.5" cy="1232.1" r="9.8"/><circle cx="933.5" cy="1233.5" r="9.8"/><circle cx="936.6" cy="1232.3" r="9.8"/><circle cx="939" cy="1362.6" r="9.8"/><circle cx="939.6" cy="1370.1" r="9.8"/><circle cx="942.4" cy="1407.5" r="9.8"/><circle cx="942.6" cy="1408.9" r="9.8"/><circle cx="945.7" cy="1428.7" r="9.8"/><circle cx="948.7" cy="1447.2" r="9.8"/><circle cx="951.8" cy="1460.8" r="9.8"/><circle cx="954.8" cy="1477.7" r="9.8"/><circle cx="957.8" cy="1465.2" r="9.8"/><circle cx="960.9" cy="1480.7" r="9.8"/><circle cx="963.9" cy="1478.2" r="9.8"/><circle cx="967" cy="1475.3" r="9.8"/><circle cx="970" cy="1467.9" r="9.8"/><circle cx="973" cy="1490.3" r="9.8"/><circle cx="976.1" cy="1492.2" r="9.8"/><circle cx="979.1" cy="1474.8" r="9.8"/><circle cx="982.2" cy="1494.6" r="9.8"/><circle cx="985.2" cy="1479.2" r="9.8"/><circle cx="987.5" cy="1511.1" r="9.8"/><circle cx="988.3" cy="1489.9" r="9.8"/><circle cx="991.3" cy="1485.6" r="9.8"/><circle cx="994.3" cy="1503.3" r="9.8"/><circle cx="997.4" cy="1478" r="9.8"/><circle cx="1000.4" cy="1490.7" r="9.8"/><circle cx="1003.5" cy="1495.1" r="9.8"/><circle cx="1006.5" cy="1465.4" r="9.8"/><circle cx="1009.5" cy="1479.5" r="9.8"/><circle cx="1012.6" cy="1451.6" r="9.8"/><circle cx="1015.6" cy="1483.3" r="9.8"/><circle cx="1018.7" cy="1491.3" r="9.8"/><circle cx="1021.7" cy="1487.1" r="9.8"/><circle cx="1024.7" cy="1472.3" r="9.8"/><circle cx="1027.8" cy="1489.2" r="9.8"/><circle cx="1030.8" cy="1484.7" r="9.8"/><circle cx="1033.9" cy="1484.4" r="9.8"/><circle cx="1036.9" cy="1499.2" r="9.8"/><circle cx="1039.9" cy="1489.1" r="9.8"/><circle cx="1043" cy="1495.8" r="9.8"/><circle cx="1046" cy="1503.7" r="9.8"/><circle cx="1049.1" cy="1482.7" r="9.8"/></g>
</g>
<path d="M148.5,1564.2 H1049.4 V902.2 H148.5" fill="none" stroke="#000" stroke-width="4" stroke-linejoin="round"/>
<line x1="133.0" y1="1564.2" x2="148.5" y2="1564.2" stroke="#000" stroke-width="3.6"/>
<line x1="140.0" y1="1501" x2="148.5" y2="1501" stroke="#000" stroke-width="3.6"/>
<line x1="133.0" y1="1437.8" x2="148.5" y2="1437.8" stroke="#000" stroke-width="3.6"/>
<line x1="140.0" y1="1374.6" x2="148.5" y2="1374.6" stroke="#000" stroke-width="3.6"/>
<line x1="133.0" y1="1311.4" x2="148.5" y2="1311.4" stroke="#000" stroke-width="3.6"/>
<line x1="140.0" y1="1248.2" x2="148.5" y2="1248.2" stroke="#000" stroke-width="3.6"/>
<line x1="133.0" y1="1185" x2="148.5" y2="1185" stroke="#000" stroke-width="3.6"/>
<line x1="140.0" y1="1121.8" x2="148.5" y2="1121.8" stroke="#000" stroke-width="3.6"/>
<line x1="133.0" y1="1058.6" x2="148.5" y2="1058.6" stroke="#000" stroke-width="3.6"/>
<line x1="140.0" y1="995.4" x2="148.5" y2="995.4" stroke="#000" stroke-width="3.6"/>
<line x1="133.0" y1="932.2" x2="148.5" y2="932.2" stroke="#000" stroke-width="3.6"/>
<line x1="148.5" y1="1564.2" x2="148.5" y2="1579.2" stroke="#000" stroke-width="3.6"/>
<line x1="261.1" y1="1564.2" x2="261.1" y2="1573.2" stroke="#000" stroke-width="3.6"/>
<line x1="373.7" y1="1564.2" x2="373.7" y2="1579.2" stroke="#000" stroke-width="3.6"/>
<line x1="486.3" y1="1564.2" x2="486.3" y2="1573.2" stroke="#000" stroke-width="3.6"/>
<line x1="599" y1="1564.2" x2="599" y2="1579.2" stroke="#000" stroke-width="3.6"/>
<line x1="711.6" y1="1564.2" x2="711.6" y2="1573.2" stroke="#000" stroke-width="3.6"/>
<line x1="824.2" y1="1564.2" x2="824.2" y2="1579.2" stroke="#000" stroke-width="3.6"/>
<line x1="936.8" y1="1564.2" x2="936.8" y2="1573.2" stroke="#000" stroke-width="3.6"/>
<line x1="1049.4" y1="1564.2" x2="1049.4" y2="1579.2" stroke="#000" stroke-width="3.6"/>
<text x="93.99" y="1576.50" font-size="54" font-weight="bold" fill="#000" font-family="'Liberation Sans', Arial, sans-serif">0</text>
<text x="93.99" y="1452.00" font-size="54" font-weight="bold" fill="#000" font-family="'Liberation Sans', Arial, sans-serif">2</text>
<text x="92.10" y="1326.50" font-size="54" font-weight="bold" fill="#000" font-family="'Liberation Sans', Arial, sans-serif">4</text>
<text x="93.72" y="1200.50" font-size="54" font-weight="bold" fill="#000" font-family="'Liberation Sans', Arial, sans-serif">6</text>
<text x="93.45" y="1072.50" font-size="54" font-weight="bold" fill="#000" font-family="'Liberation Sans', Arial, sans-serif">8</text>
<text x="64.02" y="945.30" font-size="54" font-weight="bold" fill="#000" font-family="'Liberation Sans', Arial, sans-serif">10</text>
<text x="133.02" y="1626.20" font-size="54" font-weight="bold" fill="#000" font-family="'Liberation Sans', Arial, sans-serif">0</text>
<text x="343.39" y="1626.20" font-size="54" font-weight="bold" fill="#000" font-family="'Liberation Sans', Arial, sans-serif">20</text>
<text x="569.16" y="1626.20" font-size="54" font-weight="bold" fill="#000" font-family="'Liberation Sans', Arial, sans-serif">40</text>
<text x="793.84" y="1626.20" font-size="54" font-weight="bold" fill="#000" font-family="'Liberation Sans', Arial, sans-serif">60</text>
<text x="1019.20" y="1626.20" font-size="54" font-weight="bold" fill="#000" font-family="'Liberation Sans', Arial, sans-serif">80</text>
<text x="480.99" y="1688.40" font-size="54" font-weight="bold" fill="#000" font-family="'Liberation Sans', Arial, sans-serif" textLength="253.30" lengthAdjust="spacingAndGlyphs">Time (sec)</text>
<text transform="translate(53.80,1460.43) rotate(-90)" font-size="53.5" font-weight="bold" fill="#000" font-family="'Liberation Sans', Arial, sans-serif" textLength="451.86" lengthAdjust="spacingAndGlyphs">Photocurrent (μA)</text>
<line x1="189.5" y1="936" x2="277.8" y2="936" stroke="#ec2a26" stroke-width="5"/>
<ellipse cx="232.6" cy="936" rx="6.2" ry="9" fill="#ec2a26"/>
<text x="287.18" y="947.30" font-size="32.8" font-weight="bold" fill="#000" font-family="'Liberation Sans', Arial, sans-serif" textLength="179.88" lengthAdjust="spacingAndGlyphs">13.5 μW/cm</text>
<text x="465.82" y="926.00" font-size="18" font-weight="bold" fill="#000" font-family="'Liberation Sans', Arial, sans-serif" textLength="15.64" lengthAdjust="spacingAndGlyphs">2</text>
<line x1="189.5" y1="990.6" x2="277.8" y2="990.6" stroke="#f5821f" stroke-width="5"/>
<ellipse cx="232.6" cy="990.6" rx="6.2" ry="9" fill="#f5821f"/>
<text x="288.33" y="1001.95" font-size="32.8" font-weight="bold" fill="#000" font-family="'Liberation Sans', Arial, sans-serif" textLength="178.72" lengthAdjust="spacingAndGlyphs">5.32 μW/cm</text>
<text x="465.82" y="980.65" font-size="18" font-weight="bold" fill="#000" font-family="'Liberation Sans', Arial, sans-serif" textLength="15.64" lengthAdjust="spacingAndGlyphs">2</text>
<line x1="189.5" y1="1045.3" x2="277.8" y2="1045.3" stroke="#1f8f40" stroke-width="5"/>
<ellipse cx="232.6" cy="1045.3" rx="6.2" ry="9" fill="#1f8f40"/>
<text x="288.00" y="1056.60" font-size="32.8" font-weight="bold" fill="#000" font-family="'Liberation Sans', Arial, sans-serif" textLength="179.05" lengthAdjust="spacingAndGlyphs">0.52 μW/cm</text>
<text x="465.82" y="1035.30" font-size="18" font-weight="bold" fill="#000" font-family="'Liberation Sans', Arial, sans-serif" textLength="15.64" lengthAdjust="spacingAndGlyphs">2</text>
</g>
<g id="pd">
<text x="1091.68" y="916.50" font-size="63.5" fill="#000" font-family="'Liberation Sans', Arial, sans-serif" textLength="35.10" lengthAdjust="spacingAndGlyphs">d</text>
<line x1="1544.7" y1="1047" x2="1544.7" y2="1567.9" stroke="#505050" stroke-width="2.8" stroke-dasharray="3.6,6.7"/>
<line x1="1581.2" y1="1047" x2="1581.2" y2="1567.9" stroke="#505050" stroke-width="2.8" stroke-dasharray="3.6,6.7"/>
<line x1="1984" y1="1000.5" x2="1984" y2="1567.9" stroke="#505050" stroke-width="2.8" stroke-dasharray="3.6,6.7"/>
<line x1="2065.5" y1="1000.5" x2="2065.5" y2="1567.9" stroke="#505050" stroke-width="2.8" stroke-dasharray="3.6,6.7"/>
<clipPath id="dclip"><rect x="1308" y="907.9" width="900.7" height="660"/></clipPath>
<g clip-path="url(#dclip)">
<polyline points="1314.6,1504.3 1319.5,1509.6 1324.5,1514.9 1328.8,1500.1 1333.1,1485.2 1337.7,1499.4 1342.3,1513.6 1352.2,1466.6 1361.5,1499.7 1366.2,1490.1 1370.8,1480.5 1375.1,1495.4 1379.4,1510.3 1383.3,1506.7 1387.3,1503 1391.9,1510.3 1396.6,1517.6 1401.2,1520.9 1405.8,1524.2 1410.4,1522.8 1415.1,1521.5 1419.7,1511.2 1424.3,1501 1428.9,1500.7 1433.6,1500.4 1438.2,1503.7 1442.9,1507 1447.5,1505.7 1452.1,1504.3 1456.4,1501 1460.7,1497.7 1465.3,1499.7 1470,1501.7 1474.6,1498.4 1479.2,1495.1 1484.2,1483.2 1489.2,1471.3 1497.1,1513.6 1501.7,1514.9 1506.3,1516.2 1510.7,1509.6 1515,1503 1520,1504.3 1524.9,1505.7 1529.5,1503.7 1534.1,1501.7 1538.8,1497.1 1543.4,1492.4 1552.6,1285.8 1562,1178.7 1566.4,1165.2 1570.8,1151.6 1575.2,1148.3 1579.6,1145 1584,1139 1588.4,1132.9 1593.1,1120.5 1597.8,1108.1 1603,1119.9 1608.3,1131.8 1612.2,1116.9 1616,1102 1621.5,1110 1627,1118 1630.8,1105.6 1634.7,1093.2 1639.1,1089.9 1643.5,1086.6 1648.3,1082.4 1653.2,1078.3 1657.6,1083.8 1662,1089.4 1671.4,1131.3 1681.9,1098.2 1685.8,1104.8 1689.6,1111.4 1694.5,1115.2 1699.5,1119.1 1705,1117.4 1710.5,1115.8 1713.8,1104.8 1717.2,1093.8 1721.6,1091.6 1726,1089.4 1731,1097.1 1735.9,1104.8 1740.3,1096 1744.7,1087.2 1749.1,1083.8 1753.5,1080.5 1758,1076.7 1762.4,1072.8 1767.9,1076.7 1773.4,1080.5 1776.2,1066.2 1778.9,1051.9 1785.5,1047 1792.1,1042 1799.8,1081.6 1804.8,1078.3 1809.8,1075 1816.4,1126.8 1820.8,1129.6 1825.2,1132.4 1831.2,1132.4 1837.3,1132.4 1843.9,1096 1855,1059.6 1860,1073.8 1864.9,1087.9 1869.2,1090.3 1873.4,1092.7 1878,1086.7 1882.5,1080.6 1887,1084.8 1891.6,1089.1 1895.8,1098.2 1900.1,1107.3 1905,1114.6 1909.9,1121.9 1918.4,1086.6 1922.7,1075.7 1926.9,1064.7 1931.8,1057.4 1936.6,1050.1 1940.9,1054.4 1945.2,1058.7 1954.9,1093.9 1963.4,1061.1 1968.2,1059.9 1973.1,1058.7 1978,1046.5 1982.9,1034.3 1992,1202.8 2000.4,1308.5 2010.3,1342 2018.6,1385.5 2027.6,1421.7 2032.7,1410.1 2037.8,1398.4 2046.6,1429.5 2050.4,1434.8 2054.3,1440.1 2059.7,1446.9 2065,1453.7 2069.3,1446.9 2073.7,1440.1 2078.6,1428.9 2083.4,1417.8 2092.2,1455.7 2097.1,1460.1 2101.9,1464.4 2106.2,1450.3 2110.6,1436.3 2115.4,1441.6 2120.3,1446.9 2124.7,1449.8 2129,1452.8 2133.3,1443.5 2137.7,1434.3 2142.6,1436.8 2147.4,1439.2 2151.3,1443.6 2155.2,1447.9 2160.1,1457.6 2164.9,1467.3 2169.8,1471.2 2174.6,1475.1 2178.5,1468.8 2182.4,1462.5 2187.2,1457.7 2192.1,1452.8 2196.9,1455.2 2201.8,1457.6" fill="none" stroke="#ec2a26" stroke-width="2.8" stroke-linejoin="round"/>
<g fill="#ec2a26"><circle cx="1314.6" cy="1504.3" r="10"/><circle cx="1319.5" cy="1509.6" r="10"/><circle cx="1324.5" cy="1514.9" r="10"/><circle cx="1328.8" cy="1500.1" r="10"/><circle cx="1333.1" cy="1485.2" r="10"/><circle cx="1337.7" cy="1499.4" r="10"/><circle cx="1342.3" cy="1513.6" r="10"/><circle cx="1352.2" cy="1466.6" r="10"/><circle cx="1361.5" cy="1499.7" r="10"/><circle cx="1366.2" cy="1490.1" r="10"/><circle cx="1370.8" cy="1480.5" r="10"/><circle cx="1375.1" cy="1495.4" r="10"/><circle cx="1379.4" cy="1510.3" r="10"/><circle cx="1383.3" cy="1506.7" r="10"/><circle cx="1387.3" cy="1503" r="10"/><circle cx="1391.9" cy="1510.3" r="10"/><circle cx="1396.6" cy="1517.6" r="10"/><circle cx="1401.2" cy="1520.9" r="10"/><circle cx="1405.8" cy="1524.2" r="10"/><circle cx="1410.4" cy="1522.8" r="10"/><circle cx="1415.1" cy="1521.5" r="10"/><circle cx="1419.7" cy="1511.2" r="10"/><circle cx="1424.3" cy="1501" r="10"/><circle cx="1428.9" cy="1500.7" r="10"/><circle cx="1433.6" cy="1500.4" r="10"/><circle cx="1438.2" cy="1503.7" r="10"/><circle cx="1442.9" cy="1507" r="10"/><circle cx="1447.5" cy="1505.7" r="10"/><circle cx="1452.1" cy="1504.3" r="10"/><circle cx="1456.4" cy="1501" r="10"/><circle cx="1460.7" cy="1497.7" r="10"/><circle cx="1465.3" cy="1499.7" r="10"/><circle cx="1470" cy="1501.7" r="10"/><circle cx="1474.6" cy="1498.4" r="10"/><circle cx="1479.2" cy="1495.1" r="10"/><circle cx="1484.2" cy="1483.2" r="10"/><circle cx="1489.2" cy="1471.3" r="10"/><circle cx="1497.1" cy="1513.6" r="10"/><circle cx="1501.7" cy="1514.9" r="10"/><circle cx="1506.3" cy="1516.2" r="10"/><circle cx="1510.7" cy="1509.6" r="10"/><circle cx="1515" cy="1503" r="10"/><circle cx="1520" cy="1504.3" r="10"/><circle cx="1524.9" cy="1505.7" r="10"/><circle cx="1529.5" cy="1503.7" r="10"/><circle cx="1534.1" cy="1501.7" r="10"/><circle cx="1538.8" cy="1497.1" r="10"/><circle cx="1543.4" cy="1492.4" r="10"/><circle cx="1552.6" cy="1285.8" r="10"/><circle cx="1562" cy="1178.7" r="10"/><circle cx="1566.4" cy="1165.2" r="10"/><circle cx="1570.8" cy="1151.6" r="10"/><circle cx="1575.2" cy="1148.3" r="10"/><circle cx="1579.6" cy="1145" r="10"/><circle cx="1584" cy="1139" r="10"/><circle cx="1588.4" cy="1132.9" r="10"/><circle cx="1593.1" cy="1120.5" r="10"/><circle cx="1597.8" cy="1108.1" r="10"/><circle cx="1603" cy="1119.9" r="10"/><circle cx="1608.3" cy="1131.8" r="10"/><circle cx="1612.2" cy="1116.9" r="10"/><circle cx="1616" cy="1102" r="10"/><circle cx="1621.5" cy="1110" r="10"/><circle cx="1627" cy="1118" r="10"/><circle cx="1630.8" cy="1105.6" r="10"/><circle cx="1634.7" cy="1093.2" r="10"/><circle cx="1639.1" cy="1089.9" r="10"/><circle cx="1643.5" cy="1086.6" r="10"/><circle cx="1648.3" cy="1082.4" r="10"/><circle cx="1653.2" cy="1078.3" r="10"/><circle cx="1657.6" cy="1083.8" r="10"/><circle cx="1662" cy="1089.4" r="10"/><circle cx="1671.4" cy="1131.3" r="10"/><circle cx="1681.9" cy="1098.2" r="10"/><circle cx="1685.8" cy="1104.8" r="10"/><circle cx="1689.6" cy="1111.4" r="10"/><circle cx="1694.5" cy="1115.2" r="10"/><circle cx="1699.5" cy="1119.1" r="10"/><circle cx="1705" cy="1117.4" r="10"/><circle cx="1710.5" cy="1115.8" r="10"/><circle cx="1713.8" cy="1104.8" r="10"/><circle cx="1717.2" cy="1093.8" r="10"/><circle cx="1721.6" cy="1091.6" r="10"/><circle cx="1726" cy="1089.4" r="10"/><circle cx="1731" cy="1097.1" r="10"/><circle cx="1735.9" cy="1104.8" r="10"/><circle cx="1740.3" cy="1096" r="10"/><circle cx="1744.7" cy="1087.2" r="10"/><circle cx="1749.1" cy="1083.8" r="10"/><circle cx="1753.5" cy="1080.5" r="10"/><circle cx="1758" cy="1076.7" r="10"/><circle cx="1762.4" cy="1072.8" r="10"/><circle cx="1767.9" cy="1076.7" r="10"/><circle cx="1773.4" cy="1080.5" r="10"/><circle cx="1776.2" cy="1066.2" r="10"/><circle cx="1778.9" cy="1051.9" r="10"/><circle cx="1785.5" cy="1047" r="10"/><circle cx="1792.1" cy="1042" r="10"/><circle cx="1799.8" cy="1081.6" r="10"/><circle cx="1804.8" cy="1078.3" r="10"/><circle cx="1809.8" cy="1075" r="10"/><circle cx="1816.4" cy="1126.8" r="10"/><circle cx="1820.8" cy="1129.6" r="10"/><circle cx="1825.2" cy="1132.4" r="10"/><circle cx="1831.2" cy="1132.4" r="10"/><circle cx="1837.3" cy="1132.4" r="10"/><circle cx="1843.9" cy="1096" r="10"/><circle cx="1855" cy="1059.6" r="10"/><circle cx="1860" cy="1073.8" r="10"/><circle cx="1864.9" cy="1087.9" r="10"/><circle cx="1869.2" cy="1090.3" r="10"/><circle cx="1873.4" cy="1092.7" r="10"/><circle cx="1878" cy="1086.7" r="10"/><circle cx="1882.5" cy="1080.6" r="10"/><circle cx="1887" cy="1084.8" r="10"/><circle cx="1891.6" cy="1089.1" r="10"/><circle cx="1895.8" cy="1098.2" r="10"/><circle cx="1900.1" cy="1107.3" r="10"/><circle cx="1905" cy="1114.6" r="10"/><circle cx="1909.9" cy="1121.9" r="10"/><circle cx="1918.4" cy="1086.6" r="10"/><circle cx="1922.7" cy="1075.7" r="10"/><circle cx="1926.9" cy="1064.7" r="10"/><circle cx="1931.8" cy="1057.4" r="10"/><circle cx="1936.6" cy="1050.1" r="10"/><circle cx="1940.9" cy="1054.4" r="10"/><circle cx="1945.2" cy="1058.7" r="10"/><circle cx="1954.9" cy="1093.9" r="10"/><circle cx="1963.4" cy="1061.1" r="10"/><circle cx="1968.2" cy="1059.9" r="10"/><circle cx="1973.1" cy="1058.7" r="10"/><circle cx="1978" cy="1046.5" r="10"/><circle cx="1982.9" cy="1034.3" r="10"/><circle cx="1992" cy="1202.8" r="10"/><circle cx="2000.4" cy="1308.5" r="10"/><circle cx="2010.3" cy="1342" r="10"/><circle cx="2018.6" cy="1385.5" r="10"/><circle cx="2027.6" cy="1421.7" r="10"/><circle cx="2032.7" cy="1410.1" r="10"/><circle cx="2037.8" cy="1398.4" r="10"/><circle cx="2046.6" cy="1429.5" r="10"/><circle cx="2050.4" cy="1434.8" r="10"/><circle cx="2054.3" cy="1440.1" r="10"/><circle cx="2059.7" cy="1446.9" r="10"/><circle cx="2065" cy="1453.7" r="10"/><circle cx="2069.3" cy="1446.9" r="10"/><circle cx="2073.7" cy="1440.1" r="10"/><circle cx="2078.6" cy="1428.9" r="10"/><circle cx="2083.4" cy="1417.8" r="10"/><circle cx="2092.2" cy="1455.7" r="10"/><circle cx="2097.1" cy="1460.1" r="10"/><circle cx="2101.9" cy="1464.4" r="10"/><circle cx="2106.2" cy="1450.3" r="10"/><circle cx="2110.6" cy="1436.3" r="10"/><circle cx="2115.4" cy="1441.6" r="10"/><circle cx="2120.3" cy="1446.9" r="10"/><circle cx="2124.7" cy="1449.8" r="10"/><circle cx="2129" cy="1452.8" r="10"/><circle cx="2133.3" cy="1443.5" r="10"/><circle cx="2137.7" cy="1434.3" r="10"/><circle cx="2142.6" cy="1436.8" r="10"/><circle cx="2147.4" cy="1439.2" r="10"/><circle cx="2151.3" cy="1443.6" r="10"/><circle cx="2155.2" cy="1447.9" r="10"/><circle cx="2160.1" cy="1457.6" r="10"/><circle cx="2164.9" cy="1467.3" r="10"/><circle cx="2169.8" cy="1471.2" r="10"/><circle cx="2174.6" cy="1475.1" r="10"/><circle cx="2178.5" cy="1468.8" r="10"/><circle cx="2182.4" cy="1462.5" r="10"/><circle cx="2187.2" cy="1457.7" r="10"/><circle cx="2192.1" cy="1452.8" r="10"/><circle cx="2196.9" cy="1455.2" r="10"/><circle cx="2201.8" cy="1457.6" r="10"/></g>
</g>
<rect x="1310.1" y="907.9" width="900.8" height="660" fill="none" stroke="#000" stroke-width="4" stroke-linejoin="round"/>
<line x1="1293.6" y1="1567.9" x2="1310.1" y2="1567.9" stroke="#000" stroke-width="3.6"/>
<line x1="1300.6" y1="1501.9" x2="1310.1" y2="1501.9" stroke="#000" stroke-width="3.6"/>
<line x1="1293.6" y1="1435.9" x2="1310.1" y2="1435.9" stroke="#000" stroke-width="3.6"/>
<line x1="1300.6" y1="1369.9" x2="1310.1" y2="1369.9" stroke="#000" stroke-width="3.6"/>
<line x1="1293.6" y1="1303.9" x2="1310.1" y2="1303.9" stroke="#000" stroke-width="3.6"/>
<line x1="1300.6" y1="1237.9" x2="1310.1" y2="1237.9" stroke="#000" stroke-width="3.6"/>
<line x1="1293.6" y1="1171.9" x2="1310.1" y2="1171.9" stroke="#000" stroke-width="3.6"/>
<line x1="1300.6" y1="1105.9" x2="1310.1" y2="1105.9" stroke="#000" stroke-width="3.6"/>
<line x1="1293.6" y1="1039.9" x2="1310.1" y2="1039.9" stroke="#000" stroke-width="3.6"/>
<line x1="1300.6" y1="973.9" x2="1310.1" y2="973.9" stroke="#000" stroke-width="3.6"/>
<line x1="1293.6" y1="907.9" x2="1310.1" y2="907.9" stroke="#000" stroke-width="3.6"/>
<line x1="1310.1" y1="1567.9" x2="1310.1" y2="1583.4" stroke="#000" stroke-width="3.6"/>
<line x1="1422.7" y1="1567.9" x2="1422.7" y2="1576.9" stroke="#000" stroke-width="3.6"/>
<line x1="1535.3" y1="1567.9" x2="1535.3" y2="1583.4" stroke="#000" stroke-width="3.6"/>
<line x1="1647.9" y1="1567.9" x2="1647.9" y2="1576.9" stroke="#000" stroke-width="3.6"/>
<line x1="1760.5" y1="1567.9" x2="1760.5" y2="1583.4" stroke="#000" stroke-width="3.6"/>
<line x1="1873.1" y1="1567.9" x2="1873.1" y2="1576.9" stroke="#000" stroke-width="3.6"/>
<line x1="1985.7" y1="1567.9" x2="1985.7" y2="1583.4" stroke="#000" stroke-width="3.6"/>
<line x1="2098.3" y1="1567.9" x2="2098.3" y2="1576.9" stroke="#000" stroke-width="3.6"/>
<line x1="2210.9" y1="1567.9" x2="2210.9" y2="1583.4" stroke="#000" stroke-width="3.6"/>
<text x="1255.78" y="1579.90" font-size="51.5" font-weight="bold" fill="#000" font-family="'Liberation Sans', Arial, sans-serif">0</text>
<text x="1255.78" y="1447.90" font-size="51.5" font-weight="bold" fill="#000" font-family="'Liberation Sans', Arial, sans-serif">2</text>
<text x="1253.97" y="1315.90" font-size="51.5" font-weight="bold" fill="#000" font-family="'Liberation Sans', Arial, sans-serif">4</text>
<text x="1255.52" y="1183.90" font-size="51.5" font-weight="bold" fill="#000" font-family="'Liberation Sans', Arial, sans-serif">6</text>
<text x="1255.26" y="1051.90" font-size="51.5" font-weight="bold" fill="#000" font-family="'Liberation Sans', Arial, sans-serif">8</text>
<text x="1227.19" y="919.90" font-size="51.5" font-weight="bold" fill="#000" font-family="'Liberation Sans', Arial, sans-serif">10</text>
<text x="1280.66" y="1628.70" font-size="51.5" font-weight="bold" fill="#000" font-family="'Liberation Sans', Arial, sans-serif">40</text>
<text x="1505.47" y="1628.70" font-size="51.5" font-weight="bold" fill="#000" font-family="'Liberation Sans', Arial, sans-serif">50</text>
<text x="1730.55" y="1628.70" font-size="51.5" font-weight="bold" fill="#000" font-family="'Liberation Sans', Arial, sans-serif">60</text>
<text x="1955.49" y="1628.70" font-size="51.5" font-weight="bold" fill="#000" font-family="'Liberation Sans', Arial, sans-serif">70</text>
<text x="2181.07" y="1628.70" font-size="51.5" font-weight="bold" fill="#000" font-family="'Liberation Sans', Arial, sans-serif">80</text>
<text x="1632.49" y="1694.30" font-size="52" font-weight="bold" fill="#000" font-family="'Liberation Sans', Arial, sans-serif" textLength="253.00" lengthAdjust="spacingAndGlyphs">Time (sec)</text>
<text transform="translate(1217.40,1434.06) rotate(-90)" font-size="53" font-weight="bold" fill="#000" font-family="'Liberation Sans', Arial, sans-serif" textLength="442.13" lengthAdjust="spacingAndGlyphs">Photocurrent (μA)</text>
<text x="1443.62" y="1034.80" font-size="40" font-weight="bold" fill="#000" font-family="'Liberation Sans', Arial, sans-serif" textLength="21.57" lengthAdjust="spacingAndGlyphs">τ</text>
<text x="1461.94" y="1055.50" font-size="28" font-weight="bold" fill="#000" font-family="'Liberation Sans', Arial, sans-serif" textLength="15.94" lengthAdjust="spacingAndGlyphs">r</text>
<text x="1476.83" y="1034.80" font-size="53.5" font-weight="bold" fill="#000" font-family="'Liberation Sans', Arial, sans-serif" textLength="109.54" lengthAdjust="spacingAndGlyphs">:0.81</text>
<text x="1606.66" y="1034.80" font-size="53.5" font-weight="bold" fill="#000" font-family="'Liberation Sans', Arial, sans-serif" textLength="29.20" lengthAdjust="spacingAndGlyphs">s</text>
<text x="1919.62" y="997.60" font-size="40" font-weight="bold" fill="#000" font-family="'Liberation Sans', Arial, sans-serif" textLength="21.36" lengthAdjust="spacingAndGlyphs">τ</text>
<text x="1939.35" y="1018.00" font-size="30" font-weight="bold" fill="#000" font-family="'Liberation Sans', Arial, sans-serif" textLength="20.56" lengthAdjust="spacingAndGlyphs">d</text>
<text x="1958.66" y="997.60" font-size="51.5" font-weight="bold" fill="#000" font-family="'Liberation Sans', Arial, sans-serif" textLength="116.08" lengthAdjust="spacingAndGlyphs">:3.65</text>
<text x="2089.72" y="997.60" font-size="51.5" font-weight="bold" fill="#000" font-family="'Liberation Sans', Arial, sans-serif" textLength="28.27" lengthAdjust="spacingAndGlyphs">s</text>
</g></g></svg></body></html>
